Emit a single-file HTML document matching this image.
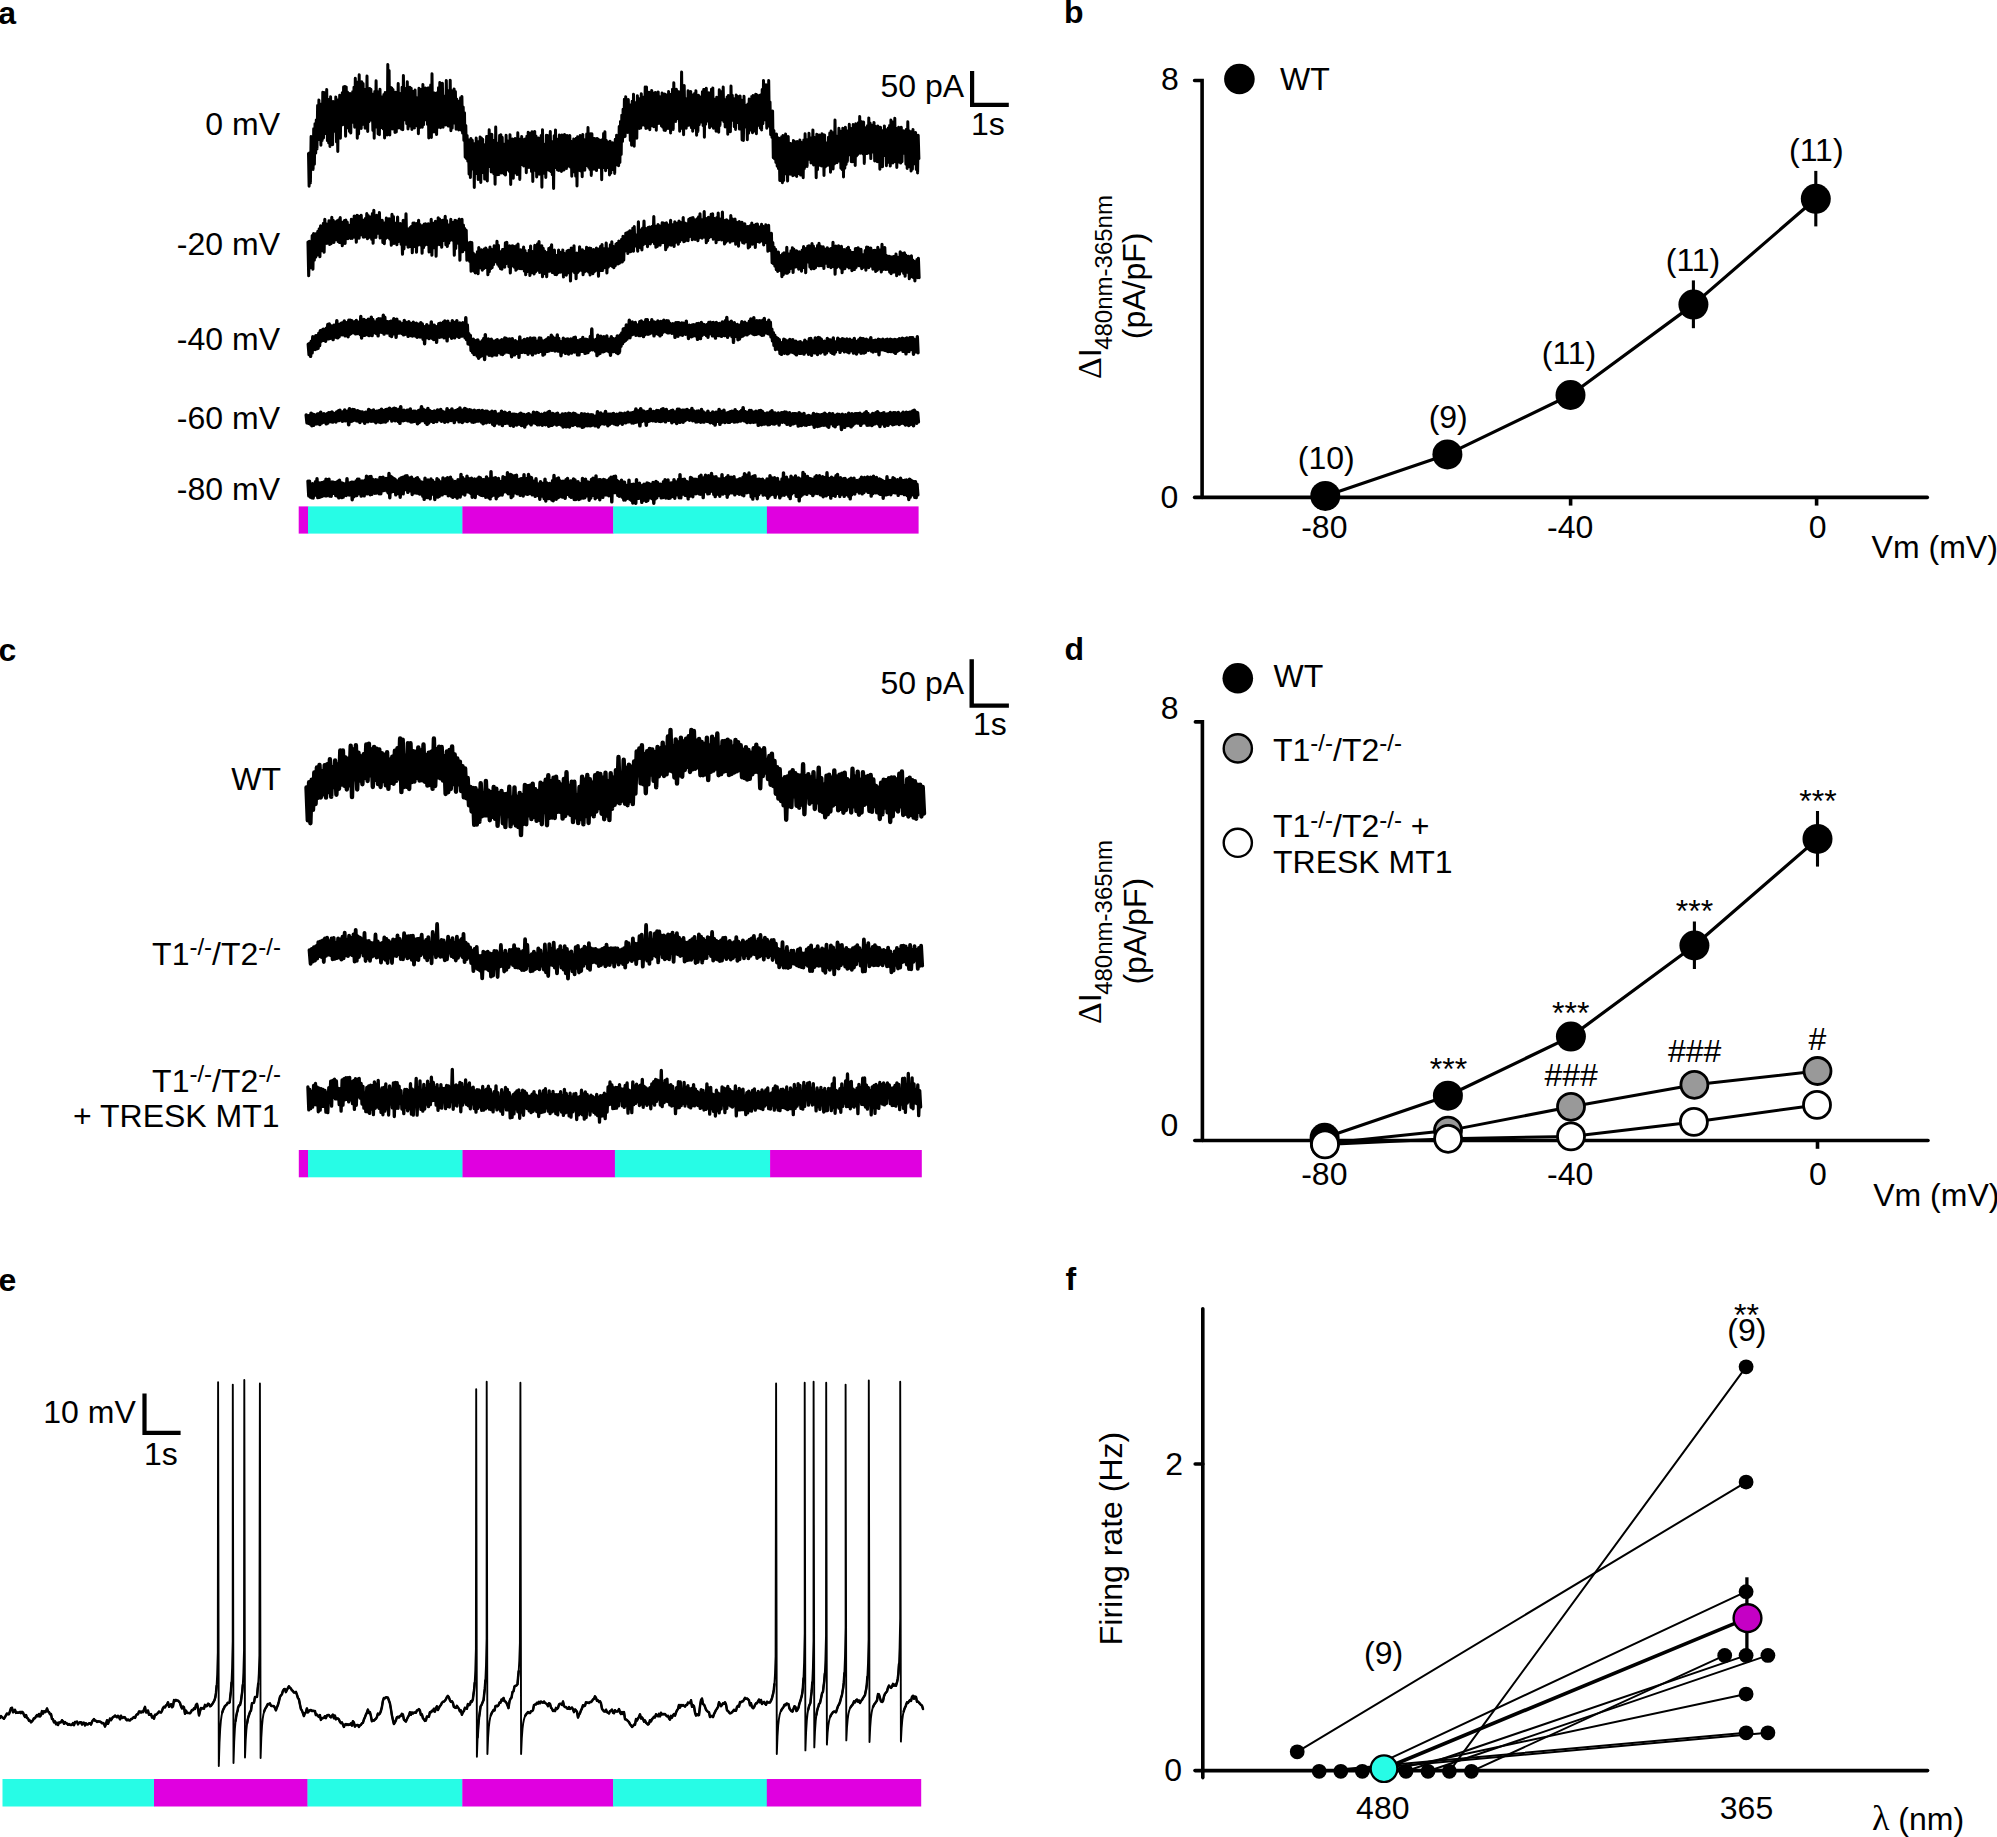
<!DOCTYPE html>
<html lang="en"><head><meta charset="utf-8"><title>Figure</title>
<style>html,body{margin:0;padding:0;background:#fff}svg{display:block}text{font-family:"Liberation Sans",sans-serif;font-size:32px;fill:#000}.tr{fill:none;stroke:#000;stroke-linejoin:round;stroke-linecap:round}.ser{font-family:"Liberation Serif",serif}</style></head><body>
<svg width="1997" height="1837" viewBox="0 0 1997 1837">
<rect width="1997" height="1837" fill="#fff"/>
<g id="panel-a">
<text x="-1.8" y="23.6" font-weight="bold">a</text>
<text x="280" y="135.3" text-anchor="end">0 mV</text>
<text x="280" y="255.4" text-anchor="end">-20 mV</text>
<text x="280" y="350.1" text-anchor="end">-40 mV</text>
<text x="280" y="429.2" text-anchor="end">-60 mV</text>
<text x="280" y="500" text-anchor="end">-80 mV</text>
<polyline class="tr" stroke-width="3.0" points="308.5,153.6 309.1,186.3 309.8,152.7 310.4,182.9 311.1,136.5 311.8,168.8 312.4,137.4 313.1,169.4 313.7,128.8 314.4,164.2 315,123.7 315.7,153.1 316.3,119.9 317,148.9 317.6,105.6 318.3,139.8 318.9,100 319.6,132.6 320.2,111.3 320.9,145.3 321.5,104 322.2,140.4 322.8,92.3 323.5,138 324.1,92.4 324.8,132.6 325.4,99 326.1,133.8 326.7,89.4 327.4,140.8 328,99.3 328.7,142.9 329.3,104.8 330,146.4 330.6,96.8 331.3,139.5 331.9,107.3 332.6,144.7 333.2,101.5 333.9,131.5 334.5,103.8 335.2,130.1 335.8,96.9 336.5,141.9 337.1,106.1 337.8,151.6 338.4,99.8 339.1,132.4 339.7,95.3 340.4,138.3 341,95.4 341.7,125.1 342.3,92.8 343,124 343.6,86.9 344.3,124.7 344.9,86.4 345.6,136.3 346.2,86.9 346.9,119.2 347.5,92.1 348.2,128 348.8,95.7 349.5,131.4 350.1,93.5 350.8,133.1 351.4,94.6 352.1,122.4 352.7,91.7 353.4,122.1 354,87.3 354.7,127.2 355.3,78.3 356,119.3 356.6,96 357.3,138.3 357.9,82.1 358.6,134.1 359.2,74.7 359.9,127.1 360.5,85.7 361.2,128.5 361.8,81.8 362.5,124.6 363.1,83.5 363.8,124.4 364.4,98.5 365.1,128.3 365.7,89.2 366.4,122.7 367,76 367.7,131.6 368.3,91.5 369,121.7 369.6,88.4 370.3,116.7 370.9,89.2 371.6,120.1 372.2,98.3 372.9,130.4 373.5,94 374.2,138.3 374.8,91.6 375.5,124.2 376.1,80.8 376.8,127.3 377.4,91.4 378.1,134 378.7,96.7 379.4,134.7 380,89.3 380.7,125.8 381.3,98.2 382,127.7 382.6,96.7 383.3,128.9 383.9,94.6 384.6,138 385.2,92.5 385.9,134.7 386.5,99.6 387.2,134.9 387.8,64.5 388.5,120.4 389.1,70.6 389.8,135.1 390.4,87.3 391.1,123.7 391.7,87.9 392.4,128.9 393,89.6 393.7,121.2 394.3,101.1 395,132.5 395.6,92.2 396.3,132 396.9,94.6 397.6,116.4 398.2,83.5 398.9,127.9 399.5,93.2 400.2,123.7 400.8,96.7 401.5,129.3 402.1,87.2 402.8,129.7 403.4,75.4 404.1,119.9 404.7,88.3 405.4,119.8 406,90.8 406.7,123.8 407.3,81.7 408,128.9 408.6,93.1 409.3,125.5 409.9,87.2 410.6,126.1 411.2,88.3 411.9,129.5 412.5,97.1 413.2,127.6 413.8,91.2 414.5,127.9 415.1,90 415.8,126 416.4,97.5 417.1,126 417.7,100.2 418.4,133.8 419,88.2 419.7,127.6 420.3,92 421,126.9 421.6,89.3 422.3,127.3 422.9,84.5 423.6,124.7 424.2,92.7 424.9,119.9 425.5,87.9 426.2,118 426.8,90.9 427.5,124.5 428.1,88.1 428.8,138.1 429.4,87.8 430.1,124.6 430.7,85.1 431.4,137.5 432,73.7 432.7,131.6 433.3,92.7 434,132 434.6,93 435.3,129.8 435.9,96.2 436.6,134.6 437.2,92.7 437.9,127.4 438.5,87.7 439.2,125.6 439.8,82.6 440.5,127.7 441.1,87.3 441.8,123.2 442.4,83.3 443.1,127.3 443.7,97 444.4,119.4 445,96.1 445.7,125 446.3,80.5 447,122.3 447.6,98 448.3,126.1 448.9,90.4 449.6,121.4 450.2,80.2 450.9,130.7 451.5,90.4 452.2,128.1 452.8,93.7 453.5,121.7 454.1,88.9 454.8,123.3 455.4,91.5 456.1,129.2 456.7,98.9 457.4,118.1 458,101.1 458.7,130 459.3,102 460,124.9 460.6,97.8 461.3,130.2 461.9,96.6 462.6,133.1 463.2,107 463.9,140.5 464.5,112.7 465.2,157.3 465.8,125.5 466.5,158.6 467.1,135.4 467.8,161.3 468.4,141 469.1,174.1 469.7,139.8 470.4,177.6 471,138.6 471.7,167.7 472.3,140.3 473,169.1 473.6,143.8 474.3,187.4 474.9,143.6 475.6,173.6 476.2,138 476.9,173.1 477.5,143.9 478.2,179.6 478.8,141.5 479.5,171.7 480.1,137 480.8,182.5 481.4,137.9 482.1,172.8 482.7,139.3 483.4,171.4 484,144.4 484.7,179.1 485.3,147.4 486,176.5 486.6,136.5 487.3,180.9 487.9,136.3 488.6,166.7 489.2,129.7 489.9,165.4 490.5,137.7 491.2,172 491.8,134.3 492.5,166.1 493.1,142.7 493.8,173.8 494.4,140.3 495.1,184.3 495.7,127 496.4,169.7 497,145.2 497.7,174.8 498.3,142.9 499,174.4 499.6,135.4 500.3,168.7 500.9,134.8 501.6,172.9 502.2,137.3 502.9,167.5 503.5,145 504.2,173.9 504.8,144.1 505.5,175.1 506.1,135.2 506.8,167.4 507.4,140.7 508.1,170 508.7,145.1 509.4,171.4 510,134.8 510.7,184.5 511.3,147.3 512,174.5 512.6,139.1 513.3,178.2 513.9,140.6 514.6,172.6 515.2,138.6 515.9,172.9 516.5,140 517.2,174.6 517.8,132.8 518.5,163.1 519.1,139 519.8,179.4 520.4,139 521.1,164.8 521.7,136.6 522.4,162.8 523,143.7 523.7,166 524.3,139.4 525,165.4 525.6,138.8 526.3,172.7 526.9,136.2 527.6,166.7 528.2,132.2 528.9,167.4 529.5,136.3 530.2,166.8 530.8,133.1 531.5,171.5 532.1,131.7 532.8,181.5 533.4,137.1 534.1,170.5 534.7,131.4 535.4,169.8 536,136.1 536.7,177 537.3,139.9 538,171.1 538.6,137.9 539.3,174.2 539.9,141.4 540.6,171.5 541.2,135.5 541.9,187.3 542.5,129.7 543.2,173.5 543.8,144 544.5,173.2 545.1,144.2 545.8,177.5 546.4,135.2 547.1,166.2 547.7,135.4 548.4,169.9 549,140.2 549.7,170.6 550.3,131.6 551,171.8 551.6,143.7 552.3,174.8 552.9,141.5 553.6,188.6 554.2,135.7 554.9,166.8 555.5,129.9 556.2,167.6 556.8,139 557.5,170 558.1,139.5 558.8,170.4 559.4,135 560.1,168.4 560.7,146.7 561.4,171.4 562,134.9 562.7,170.2 563.3,141.4 564,170 564.6,134.6 565.3,166.2 565.9,135.6 566.6,168.4 567.2,135.5 567.9,164.2 568.5,142.5 569.2,166.1 569.8,135.6 570.5,167.3 571.1,141.2 571.8,176.3 572.4,142.1 573.1,171.9 573.7,139 574.4,170.9 575,139.7 575.7,176.2 576.3,138.2 577,186 577.6,136.8 578.3,165.6 578.9,139.9 579.6,170.5 580.2,135.6 580.9,171.1 581.5,140.8 582.2,176.7 582.8,134.4 583.5,165.8 584.1,139.6 584.8,170.3 585.4,148.5 586.1,165.6 586.7,134 587.4,156.1 588,127.6 588.7,167.5 589.3,140.5 590,169.4 590.6,133.8 591.3,175.4 591.9,133.8 592.6,165 593.2,138.2 593.9,169.3 594.5,138.5 595.2,163.3 595.8,139.2 596.5,170.6 597.1,138.6 597.8,163.6 598.4,139.3 599.1,167.5 599.7,147.8 600.4,166.7 601,140.3 601.7,179.8 602.3,139.7 603,167.3 603.6,133.6 604.3,167.7 604.9,131.8 605.6,170.8 606.2,140.2 606.9,167 607.5,141.7 608.2,167.8 608.8,143.8 609.5,175 610.1,141.2 610.8,173.1 611.4,144.5 612.1,168 612.7,142.7 613.4,169.7 614,142.9 614.7,173.4 615.3,139.2 616,164.7 616.6,135.2 617.3,165 617.9,135.5 618.6,165.8 619.2,126.4 619.9,162.6 620.5,121.4 621.2,154.6 621.8,115.2 622.5,141.5 623.1,109.2 623.8,136.9 624.4,99.3 625.1,136.5 625.7,96.7 626.4,131.4 627,101 627.7,132.4 628.3,99.5 629,131.6 629.6,106.6 630.3,140.4 630.9,104.7 631.6,145.3 632.2,101.2 632.9,136.2 633.5,94.2 634.2,146.3 634.8,102.5 635.5,126.9 636.1,102.5 636.8,138.2 637.4,95.7 638.1,128.2 638.7,98.5 639.4,128.5 640,101.1 640.7,128.1 641.3,93.8 642,125.3 642.6,98.4 643.3,122.3 643.9,97 644.6,125.4 645.2,87 645.9,128.4 646.5,87 647.2,127.9 647.8,93.6 648.5,127.5 649.1,92.3 649.8,129.8 650.4,92.7 651.1,125.9 651.7,90.4 652.4,125.6 653,94.3 653.7,126.8 654.3,93.1 655,121.9 655.6,92.4 656.3,130.2 656.9,93.2 657.6,122.1 658.2,91.9 658.9,123.5 659.5,96.6 660.2,122.2 660.8,100.3 661.5,125.9 662.1,93.1 662.8,127.2 663.4,95.4 664.1,130.3 664.7,93.9 665.4,130.5 666,94.8 666.7,126.8 667.3,99.3 668,128.5 668.6,91.4 669.3,122.1 669.9,97.3 670.6,132.9 671.2,94.3 671.9,124.2 672.5,89.2 673.2,129.4 673.8,82.7 674.5,116.5 675.1,91.4 675.8,121.4 676.4,89.3 677.1,113.9 677.7,91.5 678.4,118.8 679,91.9 679.7,131.2 680.3,91.8 681,122.3 681.6,72.1 682.3,128.5 682.9,92.8 683.6,134.7 684.2,85.6 684.9,121.8 685.5,98.5 686.2,128.3 686.8,100.9 687.5,125.5 688.1,90.8 688.8,125.2 689.4,96.5 690.1,124.4 690.7,91.4 691.4,127.7 692,98.2 692.7,131.3 693.3,94.8 694,128 694.6,93.6 695.3,125.7 695.9,90.7 696.6,135.3 697.2,95.7 697.9,131.4 698.5,95.3 699.2,124.8 699.8,96.7 700.5,122.1 701.1,98.3 701.8,115.1 702.4,91.7 703.1,125.6 703.7,89.6 704.4,137.3 705,89.2 705.7,124.2 706.3,88.2 707,121.2 707.6,95.1 708.3,114.9 708.9,92.8 709.6,127.8 710.2,95.7 710.9,126.1 711.5,89.2 712.2,126.2 712.8,87.9 713.5,128.3 714.1,98.9 714.8,127.2 715.4,104.3 716.1,131.3 716.7,97.3 717.4,130 718,98.3 718.7,132.3 719.3,89.8 720,125.4 720.6,93.3 721.3,118 721.9,91.6 722.6,119.9 723.2,87.1 723.9,121.6 724.5,101.1 725.2,126.9 725.8,99.5 726.5,120.9 727.1,97.1 727.8,134.2 728.4,95.5 729.1,127.6 729.7,101.3 730.4,131.7 731,86 731.7,120.1 732.3,95.2 733,120.4 733.6,98.4 734.3,126.7 734.9,99.7 735.6,129.4 736.2,95.1 736.9,121.2 737.5,96.2 738.2,122.8 738.8,100 739.5,129.1 740.1,96.1 740.8,128.1 741.4,99.9 742.1,139.9 742.7,105.6 743.4,140.5 744,96.2 744.7,126.1 745.3,107.2 746,127.2 746.6,105.3 747.3,139.8 747.9,103.9 748.6,133.2 749.2,99.1 749.9,130.3 750.5,100.5 751.2,124.1 751.8,96.4 752.5,132.8 753.1,95.6 753.8,131.2 754.4,98 755.1,124.1 755.7,94.2 756.4,133.7 757,95.1 757.7,115.7 758.3,101.5 759,125.5 759.6,95.6 760.3,128.1 760.9,94.8 761.6,129.9 762.2,89.4 762.9,123.8 763.5,80.6 764.2,120 764.8,97.3 765.5,119.1 766.1,84.8 766.8,128.3 767.4,90.2 768.1,126.3 768.7,80.4 769.4,125.5 770,101.9 770.7,134.8 771.3,118.6 772,137.4 772.6,111 773.3,157.7 773.9,130.5 774.6,159 775.2,135.3 775.9,162.5 776.5,134.1 777.2,166.2 777.8,137.7 778.5,168.6 779.1,138.3 779.8,180.5 780.4,139.9 781.1,168.7 781.7,136.7 782.4,182.7 783,135.5 783.7,180.6 784.3,140 785,174.1 785.6,134 786.3,172.2 786.9,143.2 787.6,181.1 788.2,136.4 788.9,165.7 789.5,143.3 790.2,174.3 790.8,143.6 791.5,173.8 792.1,145.5 792.8,175.8 793.4,140.6 794.1,173.5 794.7,141.6 795.4,175.2 796,149.6 796.7,176.5 797.3,141.6 798,173.7 798.6,142.5 799.3,171.2 799.9,140 800.6,175.1 801.2,142.3 801.9,169.4 802.5,143.2 803.2,177.8 803.8,139.9 804.5,168.4 805.1,133.8 805.8,165.9 806.4,144.9 807.1,166.4 807.7,139.6 808.4,159.4 809,133.2 809.7,159.4 810.3,139.6 811,163 811.6,137.7 812.3,160.3 812.9,129.9 813.6,164.9 814.2,137.3 814.9,159.3 815.5,137.4 816.2,177.8 816.8,134.3 817.5,169.6 818.1,135.2 818.8,165.4 819.4,134.9 820.1,159.9 820.7,136.8 821.4,165.9 822,133.8 822.7,161.3 823.3,134.8 824,175.5 824.6,135 825.3,166.9 825.9,145.6 826.6,165.4 827.2,142.7 827.9,165.3 828.5,137.3 829.2,162.7 829.8,133.1 830.5,172.2 831.1,131 831.8,161.3 832.4,137.9 833.1,169 833.7,132.6 834.4,163.9 835,120 835.7,162.8 836.3,136.1 837,162.8 837.6,137.7 838.3,159.8 838.9,128.2 839.6,161.3 840.2,131.1 840.9,168.3 841.5,133.6 842.2,169.6 842.8,128.2 843.5,176.9 844.1,129.9 844.8,168.3 845.4,127.3 846.1,164.5 846.7,132.6 847.4,161.4 848,130.8 848.7,153 849.3,124.2 850,154.9 850.6,128.2 851.3,161.7 851.9,129.8 852.6,161.8 853.2,124.4 853.9,155.1 854.5,126.4 855.2,165.5 855.8,123.8 856.5,155.9 857.1,125.3 857.8,154.5 858.4,122.8 859.1,153 859.7,116.5 860.4,153.2 861,121.5 861.7,151.6 862.3,122.1 863,154 863.6,122.1 864.3,163.4 864.9,127.6 865.6,149 866.2,127.8 866.9,153.6 867.5,125.8 868.2,149.6 868.8,117.9 869.5,153.3 870.1,123 870.8,158.6 871.4,130.8 872.1,150.3 872.7,124.9 873.4,152.3 874,122.4 874.7,160.9 875.3,126.3 876,160.7 876.6,129.2 877.3,161.7 877.9,126.1 878.6,157.8 879.2,128.9 879.9,169.2 880.5,127.3 881.2,162.1 881.8,131.2 882.5,166.7 883.1,130.4 883.8,155.2 884.4,125.9 885.1,155.8 885.7,129.6 886.4,165.7 887,131.8 887.7,155.1 888.3,128.1 889,162.4 889.6,125.5 890.3,166.1 890.9,120 891.6,156 892.2,121.7 892.9,162.9 893.5,129.9 894.2,155.9 894.8,118.3 895.5,161.8 896.1,128.3 896.8,167.5 897.4,132 898.1,162.2 898.7,127.2 899.4,157.3 900,129.8 900.7,163.1 901.3,127.3 902,161.8 902.6,130.9 903.3,153.5 903.9,130.7 904.6,151.1 905.2,133.9 905.9,164.2 906.5,129.2 907.2,168.4 907.8,121.8 908.5,164.4 909.1,130.7 909.8,167 910.4,134.4 911.1,171.1 911.7,131.6 912.4,169.3 913,129.6 913.7,163.9 914.3,133.3 915,162.1 915.6,132.6 916.3,169.5 916.9,141.3 917.6,172.9 918.2,135.2 918.9,158.6"/>
<polyline class="tr" stroke-width="3.1" points="308,242.1 308.7,275.6 309.4,241.3 310.1,268 310.8,242.5 311.5,264.7 312.2,235.5 312.9,269.2 313.6,233.6 314.3,260.1 315,234 315.7,257.2 316.4,233.5 317.1,255.1 317.8,231.2 318.5,252.2 319.2,228.7 319.9,256.7 320.6,225.9 321.3,248.4 322,227.1 322.7,250.6 323.4,223.4 324.1,252.1 324.8,219.2 325.5,240.9 326.2,223.9 326.9,243.4 327.6,225.6 328.3,238.6 329,220.9 329.7,244.5 330.4,220.9 331.1,243.7 331.8,217.3 332.5,239.6 333.2,220.4 333.9,242.5 334.6,223 335.3,240 336,221.7 336.7,236.3 337.4,220.9 338.1,241.4 338.8,219.8 339.5,242.4 340.2,217.5 340.9,242.7 341.6,222.1 342.3,245.6 343,225.1 343.7,242.5 344.4,220.5 345.1,243.5 345.8,220.1 346.5,235.7 347.2,222.1 347.9,238.7 348.6,225 349.3,236.8 350,225.5 350.7,238.5 351.4,219.2 352.1,238.4 352.8,219.8 353.5,236.9 354.2,216 354.9,237.3 355.6,217.5 356.3,242.1 357,215.4 357.7,237.7 358.4,216.1 359.1,238.3 359.8,220.5 360.5,235 361.2,215.2 361.9,234.6 362.6,220.5 363.3,237.3 364,220 364.7,236.9 365.4,218.6 366.1,236.7 366.8,213.6 367.5,238.6 368.2,215.6 368.9,237.4 369.6,219.4 370.3,235.9 371,216.7 371.7,239.3 372.4,213.6 373.1,243.2 373.8,210.2 374.5,237.4 375.2,221.4 375.9,237.5 376.6,215.3 377.3,233.5 378,215.7 378.7,232.8 379.4,212.6 380.1,238 380.8,221.1 381.5,237.4 382.2,220.2 382.9,242.5 383.6,225.7 384.3,243.6 385,222.9 385.7,238.4 386.4,218.1 387.1,236.5 387.8,220.6 388.5,237.7 389.2,218.8 389.9,239.3 390.6,222.8 391.3,245.2 392,214.3 392.7,240.8 393.4,216.6 394.1,243.4 394.8,224.3 395.5,241.2 396.2,223 396.9,244.8 397.6,217 398.3,241.6 399,225.7 399.7,240.9 400.4,223.6 401.1,244.2 401.8,231.4 402.5,254.1 403.2,220.2 403.9,249 404.6,226.5 405.3,242 406,213.8 406.7,244.3 407.4,228.8 408.1,247.2 408.8,228.8 409.5,246.7 410.2,227.6 410.9,243.6 411.6,226.2 412.3,252.7 413,223.1 413.7,245.8 414.4,223 415.1,246.4 415.8,228.6 416.5,252.3 417.2,223.2 417.9,245.2 418.6,220.2 419.3,244.1 420,224.5 420.7,245.1 421.4,228.6 422.1,253.1 422.8,225.5 423.5,247.8 424.2,224 424.9,245.1 425.6,223.7 426.3,244.1 427,226.9 427.7,244.6 428.4,223.7 429.1,251.9 429.8,227.7 430.5,243.5 431.2,219.4 431.9,255.3 432.6,223.1 433.3,244.9 434,223.6 434.7,247.8 435.4,221.4 436.1,256.3 436.8,223.7 437.5,245 438.2,217.9 438.9,239.6 439.6,219 440.3,244.7 441,223.6 441.7,247.3 442.4,220.3 443.1,240.7 443.8,220.1 444.5,239.6 445.2,216.2 445.9,244.8 446.6,220.6 447.3,246.5 448,226.7 448.7,243.3 449.4,224.7 450.1,240.5 450.8,219.2 451.5,238.3 452.2,225 452.9,240.5 453.6,222.4 454.3,255.3 455,220.2 455.7,248.5 456.4,220.9 457.1,242.2 457.8,228.7 458.5,243.5 459.2,219.1 459.9,260.1 460.6,227.1 461.3,246.2 462,219.4 462.7,251.8 463.4,225.1 464.1,245.7 464.8,228.6 465.5,249.6 466.2,230.3 466.9,260.2 467.6,242.6 468.3,256.7 469,247.9 469.7,261.5 470.4,242.3 471.1,271.1 471.8,242.5 472.5,266.2 473.2,253.1 473.9,271.2 474.6,254.6 475.3,272.9 476,255.5 476.7,272.4 477.4,251.7 478.1,273.6 478.8,247.6 479.5,267.6 480.2,252 480.9,268 481.6,249.8 482.3,270.1 483,254.8 483.7,268.7 484.4,249.1 485.1,267.6 485.8,248 486.5,264.8 487.2,249.8 487.9,274.7 488.6,256.8 489.3,271.7 490,247 490.7,268.8 491.4,249.2 492.1,267.8 492.8,249.7 493.5,264.8 494.2,245.9 494.9,261.8 495.6,247 496.3,262 497,241.4 497.7,264.1 498.4,245.3 499.1,266.2 499.8,252.3 500.5,268.8 501.2,251.5 501.9,269.1 502.6,249.6 503.3,266.8 504,249.4 504.7,267.2 505.4,242.9 506.1,263.8 506.8,242.4 507.5,260.9 508.2,248.1 508.9,266.8 509.6,245.7 510.3,273 511,250.6 511.7,266.3 512.4,245.7 513.1,264.3 513.8,246.2 514.5,267.1 515.2,248.4 515.9,270.1 516.6,245.5 517.3,268.9 518,244.1 518.7,267 519.4,250.1 520.1,268.8 520.8,249.7 521.5,268.7 522.2,252.4 522.9,268.5 523.6,247.1 524.3,271 525,250.6 525.7,274.8 526.4,253.2 527.1,271.6 527.8,254.2 528.5,267.1 529.2,250.4 529.9,275.4 530.6,246.1 531.3,273 532,251.3 532.7,270.6 533.4,251.5 534.1,274 534.8,245.2 535.5,271.9 536.2,247 536.9,270.4 537.6,243.7 538.3,266.7 539,241.6 539.7,272.4 540.4,250.3 541.1,265.5 541.8,245.7 542.5,276.8 543.2,248.2 543.9,270.6 544.6,251 545.3,273.8 546,252.5 546.7,276.6 547.4,252.3 548.1,267.4 548.8,248.6 549.5,271.1 550.2,247.5 550.9,269.9 551.6,244.7 552.3,272.4 553,252.5 553.7,272.9 554.4,250.1 555.1,274.5 555.8,255.5 556.5,274.7 557.2,255.2 557.9,273 558.6,250.1 559.3,272.3 560,252.3 560.7,272.1 561.4,253.1 562.1,270.3 562.8,250.1 563.5,276.9 564.2,253.3 564.9,273 565.6,254.8 566.3,275.3 567,251.1 567.7,273 568.4,250.4 569.1,269.9 569.8,250.2 570.5,281 571.2,248.1 571.9,269.8 572.6,252.7 573.3,271.2 574,245.8 574.7,272.8 575.4,255.1 576.1,278.6 576.8,253.1 577.5,272.7 578.2,253.2 578.9,271.1 579.6,246.8 580.3,269.4 581,251.5 581.7,270.5 582.4,249.9 583.1,274.6 583.8,251.1 584.5,271.9 585.2,251.7 585.9,266.2 586.6,247.3 587.3,270.9 588,254.6 588.7,272.2 589.4,248 590.1,274.9 590.8,248.4 591.5,272.5 592.2,250.3 592.9,273.6 593.6,249.5 594.3,271.8 595,251.7 595.7,270.4 596.4,248 597.1,269.8 597.8,254.6 598.5,276.2 599.2,248.9 599.9,270.4 600.6,246.4 601.3,270.4 602,244.5 602.7,270.4 603.4,250.6 604.1,267.7 604.8,248.6 605.5,262.4 606.2,243.1 606.9,273 607.6,250 608.3,267.3 609,248.9 609.7,265.2 610.4,244.9 611.1,265.8 611.8,241.9 612.5,266.5 613.2,246.2 613.9,267.7 614.6,248.1 615.3,265.8 616,244 616.7,262 617.4,243.2 618.1,263.9 618.8,241 619.5,263.1 620.2,244.7 620.9,261.9 621.6,239.3 622.3,262 623,236.2 623.7,260.2 624.4,236.6 625.1,251.2 625.8,233.2 626.5,250.8 627.2,232.7 627.9,253.5 628.6,231.7 629.3,248.6 630,230.7 630.7,251.6 631.4,236.6 632.1,247.7 632.8,228.3 633.5,251.1 634.2,226.5 634.9,246.2 635.6,234.7 636.3,246.1 637,234.7 637.7,251.3 638.4,221.8 639.1,247.2 639.8,231.7 640.5,247.7 641.2,229.9 641.9,249.9 642.6,228.1 643.3,244.7 644,221 644.7,241 645.4,228.2 646.1,243.6 646.8,229.3 647.5,246.6 648.2,227.6 648.9,243.3 649.6,227 650.3,243.9 651,227.2 651.7,241.9 652.4,226.3 653.1,241.4 653.8,216.6 654.5,243.8 655.2,226.1 655.9,247.2 656.6,226.3 657.3,246.5 658,224.6 658.7,242.8 659.4,225.8 660.1,245.3 660.8,228.8 661.5,242.6 662.2,222.9 662.9,242.8 663.6,223 664.3,241.3 665,226.6 665.7,249.7 666.4,222.9 667.1,247.3 667.8,224.8 668.5,245.3 669.2,229.2 669.9,240.7 670.6,220.3 671.3,245.1 672,226.9 672.7,243.8 673.4,224.6 674.1,246.4 674.8,221.7 675.5,242.5 676.2,226.7 676.9,241.4 677.6,223.1 678.3,244.2 679,221 679.7,241.8 680.4,222.2 681.1,237.1 681.8,223.8 682.5,240 683.2,217.5 683.9,241.8 684.6,222.8 685.3,240.9 686,223.5 686.7,238 687.4,225.6 688.1,240.7 688.8,219.3 689.5,236.7 690.2,218.5 690.9,236.1 691.6,218 692.3,239.7 693,217.5 693.7,233.8 694.4,219.5 695.1,239.4 695.8,222.8 696.5,238.1 697.2,218.9 697.9,240.7 698.6,216.9 699.3,238 700,213.8 700.7,236.6 701.4,220.2 702.1,238.2 702.8,219.6 703.5,236.2 704.2,211.5 704.9,237.1 705.6,218.4 706.3,242.8 707,219.4 707.7,240.7 708.4,217.2 709.1,237.7 709.8,219.5 710.5,233 711.2,214.4 711.9,236.8 712.6,213.9 713.3,239.1 714,218.3 714.7,238.5 715.4,218.7 716.1,242.8 716.8,217.6 717.5,236.2 718.2,213.1 718.9,239.7 719.6,218.7 720.3,237.7 721,219 721.7,239.9 722.4,212 723.1,239.3 723.8,220.6 724.5,244 725.2,220.4 725.9,242.1 726.6,219.9 727.3,240.8 728,224.5 728.7,238.9 729.4,220.7 730.1,242.1 730.8,215.6 731.5,240 732.2,218.7 732.9,241 733.6,221.9 734.3,240.3 735,219.1 735.7,244.3 736.4,222 737.1,243.3 737.8,227.1 738.5,246.2 739.2,221.5 739.9,237.6 740.6,226.5 741.3,240.1 742,222.2 742.7,242.8 743.4,228.6 744.1,243.1 744.8,223.7 745.5,240.4 746.2,228.9 746.9,241.9 747.6,226.6 748.3,247.9 749,226.5 749.7,246.8 750.4,225.6 751.1,243.9 751.8,223 752.5,244.1 753.2,225.8 753.9,237.7 754.6,225.3 755.3,247.5 756,224.2 756.7,240.2 757.4,224.1 758.1,241.7 758.8,229.6 759.5,242.1 760.2,226.8 760.9,238.4 761.6,224.3 762.3,241.3 763,226.3 763.7,244.9 764.4,227.4 765.1,242.5 765.8,224.7 766.5,241.9 767.2,227.7 767.9,251.1 768.6,225.2 769.3,247.1 770,237.3 770.7,250.8 771.4,233.3 772.1,262.8 772.8,242.6 773.5,263.8 774.2,247.4 774.9,266.3 775.6,249.4 776.3,269.8 777,255 777.7,271.4 778.4,252 779.1,269.4 779.8,255.4 780.5,270.8 781.2,256.7 781.9,276.7 782.6,253.9 783.3,274.7 784,252.8 784.7,270.7 785.4,257.9 786.1,273.3 786.8,247.2 787.5,273.3 788.2,256.5 788.9,272 789.6,253.9 790.3,268.8 791,250.7 791.7,266.3 792.4,247.7 793.1,272.5 793.8,249.1 794.5,267.2 795.2,250.8 795.9,267 796.6,250.7 797.3,266.8 798,252.2 798.7,269.3 799.4,251.8 800.1,268.1 800.8,252.3 801.5,271.2 802.2,250.1 802.9,267.7 803.6,246.6 804.3,267.4 805,248.9 805.7,272.7 806.4,248.4 807.1,262.1 807.8,246.2 808.5,262.3 809.2,245.9 809.9,266.9 810.6,249.7 811.3,268.9 812,243.5 812.7,265.8 813.4,246.1 814.1,268.6 814.8,248.5 815.5,267.6 816.2,250.4 816.9,265.2 817.6,245.6 818.3,265.7 819,243.4 819.7,265.8 820.4,246 821.1,265.7 821.8,249.2 822.5,265.7 823.2,246.7 823.9,268.5 824.6,248.9 825.3,262.6 826,249.5 826.7,263.3 827.4,247.9 828.1,266.8 828.8,249.5 829.5,264.5 830.2,249 830.9,267.8 831.6,248.3 832.3,266.6 833,242.4 833.7,264.5 834.4,246.7 835.1,274.3 835.8,246.1 836.5,267.8 837.2,246.8 837.9,264.7 838.6,245.8 839.3,266.5 840,250.9 840.7,268.3 841.4,246.2 842.1,272.7 842.8,252.3 843.5,269 844.2,249.5 844.9,268.7 845.6,251.6 846.3,261.6 847,248.5 847.7,266.7 848.4,247.3 849.1,268 849.8,250.3 850.5,266.1 851.2,252.4 851.9,270.8 852.6,252.6 853.3,269.7 854,252.3 854.7,269.4 855.4,248.6 856.1,267.5 856.8,248.5 857.5,262.4 858.2,247.9 858.9,265.8 859.6,252.6 860.3,265.9 861,249.3 861.7,268.7 862.4,255.2 863.1,267.4 863.8,254.6 864.5,266.8 865.2,250.5 865.9,270.1 866.6,247.1 867.3,265.7 868,247.2 868.7,267.6 869.4,251 870.1,265.9 870.8,248 871.5,266.3 872.2,252 872.9,269.1 873.6,250.6 874.3,268.1 875,250.2 875.7,271.4 876.4,251.1 877.1,270.4 877.8,247.2 878.5,269.3 879.2,252 879.9,266.6 880.6,249.7 881.3,271.9 882,244.3 882.7,269.6 883.4,249.8 884.1,264.9 884.8,247.5 885.5,269.5 886.2,255.2 886.9,269.4 887.6,257.3 888.3,269.1 889,256.3 889.7,272.2 890.4,256.7 891.1,273.6 891.8,257.1 892.5,272.2 893.2,256.7 893.9,272.3 894.6,256.3 895.3,271.8 896,254.1 896.7,275.7 897.4,257.1 898.1,273.6 898.8,259.6 899.5,274.2 900.2,251.8 900.9,271.3 901.6,253.1 902.3,270.8 903,258 903.7,273.4 904.4,252.8 905.1,276.1 905.8,255 906.5,272.2 907.2,257.1 907.9,272.4 908.6,256.4 909.3,278.7 910,259.6 910.7,277 911.4,255.8 912.1,275.9 912.8,260 913.5,277.8 914.2,261.3 914.9,280.9 915.6,263.6 916.3,273.4 917,259.6 917.7,277.8 918.4,258.4 919.1,277.7"/>
<polyline class="tr" stroke-width="3.4" points="308.3,344.3 309.1,354.5 309.8,343.3 310.6,356.4 311.3,341.1 312.1,352.9 312.8,336.8 313.6,349.5 314.3,336.9 315.1,349.5 315.8,335.6 316.6,348.8 317.3,335.5 318.1,348.2 318.8,333.3 319.6,345.6 320.3,330.8 321.1,341.2 321.8,330.1 322.6,340.4 323.3,329.1 324.1,340.4 324.8,329.5 325.6,341.2 326.3,328.3 327.1,336.8 327.8,324.5 328.6,338.8 329.3,324 330.1,338.3 330.8,325.6 331.6,336.1 332.3,327 333.1,339.6 333.8,325.3 334.6,335.6 335.3,324.9 336.1,337.2 336.8,320.7 337.6,337.8 338.3,325.4 339.1,336.7 339.8,324.3 340.6,334.1 341.3,323.3 342.1,334.8 342.8,322.8 343.6,333.9 344.3,321 345.1,335.9 345.8,322.4 346.6,333.1 347.3,322.6 348.1,336.7 348.8,320.3 349.6,334.3 350.3,320.1 351.1,333.5 351.8,320.6 352.6,332.1 353.3,322.2 354.1,332.9 354.8,321.6 355.6,333.9 356.3,320.5 357.1,333.6 357.8,321.9 358.6,332.7 359.3,322.8 360.1,334.5 360.8,316.5 361.6,338 362.3,322.6 363.1,333.3 363.8,319.5 364.6,335.4 365.3,320.5 366.1,333.3 366.8,320.4 367.6,334.8 368.3,319.1 369.1,335.6 369.8,320.1 370.6,331.4 371.3,317.2 372.1,335.6 372.8,319.4 373.6,332.7 374.3,321.7 375.1,332.7 375.8,322.8 376.6,333.5 377.3,319.4 378.1,335.9 378.8,318.6 379.6,329.8 380.3,319 381.1,332.1 381.8,319 382.6,332.6 383.3,315.2 384.1,334.1 384.8,317.3 385.6,332.3 386.3,321.5 387.1,333 387.8,321.6 388.6,331.3 389.3,321.9 390.1,335.6 390.8,321.1 391.6,336.5 392.3,320.9 393.1,331.7 393.8,318.7 394.6,333.8 395.3,322.6 396.1,337.3 396.8,319.1 397.6,332.9 398.3,321.8 399.1,333.1 399.8,321.9 400.6,332.8 401.3,324.4 402.1,333.6 402.8,323.5 403.6,334.8 404.3,320.5 405.1,334.2 405.8,322.1 406.6,333.9 407.3,323.4 408.1,336.4 408.8,321.6 409.6,334.1 410.3,323.1 411.1,335.6 411.8,325.2 412.6,336 413.3,322.3 414.1,335 414.8,324.2 415.6,336.1 416.3,323.3 417.1,337.2 417.8,324.2 418.6,336.6 419.3,324.1 420.1,337 420.8,322.7 421.6,336.5 422.3,324 423.1,339.2 423.8,326.8 424.6,343.7 425.3,326.4 426.1,337.8 426.8,324.7 427.6,336.7 428.3,327.8 429.1,338.5 429.8,325.9 430.6,336.1 431.3,321.9 432.1,338.2 432.8,325.2 433.6,339.5 434.3,325.3 435.1,337.3 435.8,327.4 436.6,342.3 437.3,326.4 438.1,335.4 438.8,323.7 439.6,337.2 440.3,323.2 441.1,336.9 441.8,323.6 442.6,333.8 443.3,322.3 444.1,337.8 444.8,321 445.6,337 446.3,325.5 447.1,340.9 447.8,321.2 448.6,335 449.3,323.4 450.1,336.1 450.8,323.7 451.6,338.2 452.3,320.7 453.1,334.4 453.8,322.2 454.6,337.9 455.3,322.7 456.1,336.1 456.8,320.7 457.6,336.2 458.3,323.2 459.1,337.3 459.8,322.9 460.6,336.1 461.3,324.5 462.1,336.1 462.8,322.7 463.6,334.4 464.3,323.6 465.1,337.9 465.8,317.8 466.6,339.6 467.3,324.9 468.1,343.9 468.8,333.6 469.6,344.3 470.3,335.4 471.1,350.5 471.8,340.6 472.6,352.5 473.3,339.2 474.1,354.5 474.8,342.3 475.6,354.1 476.3,340.5 477.1,356 477.8,339.9 478.6,358.3 479.3,341.9 480.1,356.7 480.8,342.5 481.6,355.7 482.3,340.6 483.1,355.6 483.8,338.4 484.6,359.5 485.3,334.6 486.1,353.8 486.8,341.2 487.6,353.8 488.3,338.9 489.1,355.2 489.8,339.9 490.6,355 491.3,339.1 492.1,355.8 492.8,340.9 493.6,353.3 494.3,342.2 495.1,354.9 495.8,340.5 496.6,355.1 497.3,339.8 498.1,351.6 498.8,341.5 499.6,352.6 500.3,340.7 501.1,354.1 501.8,339.8 502.6,354.5 503.3,340.3 504.1,353.1 504.8,337.9 505.6,351.4 506.3,338.5 507.1,352.1 507.8,339.9 508.6,352.2 509.3,339 510.1,352.8 510.8,339.3 511.6,356.7 512.3,338.6 513,350.7 513.8,341.1 514.5,354.9 515.3,340.7 516,353.5 516.8,341.9 517.5,352.3 518.3,341.8 519,357.3 519.8,336.9 520.5,352.3 521.3,341.2 522,352.3 522.8,340.8 523.5,351.9 524.3,339.4 525,352.5 525.8,341 526.5,352.4 527.3,338.7 528,354.2 528.8,340.3 529.5,352.3 530.3,337.9 531,353 531.8,342.1 532.5,354.8 533.3,338.2 534,352.2 534.8,338.1 535.5,353.1 536.3,341.4 537,350.9 537.8,341 538.5,352.4 539.3,338 540,351.2 540.8,338.3 541.5,351.3 542.3,340.7 543,355.1 543.8,341.4 544.5,354.1 545.3,340.2 546,349.5 546.8,339.1 547.5,351.3 548.3,337.8 549,350.8 549.8,338.8 550.5,349.4 551.3,335.1 552,350.4 552.8,336.9 553.5,350 554.3,339.3 555,351 555.8,338.2 556.5,349.3 557.3,335 558,351.1 558.8,338.5 559.5,348.3 560.3,341.4 561,355.7 561.8,341.9 562.5,352.2 563.3,338.3 564,351.1 564.8,341.1 565.5,353.3 566.3,339.3 567,352.4 567.8,338.9 568.5,354 569.3,343.2 570,351.5 570.8,339 571.5,353.1 572.3,339.5 573,351.8 573.8,337.7 574.5,352 575.3,337.3 576,348.4 576.8,340.5 577.5,354.9 578.3,342 579,354.8 579.8,339.9 580.5,350.3 581.3,339.4 582,351.3 582.8,337.5 583.5,351.3 584.3,339.6 585,353.4 585.8,339.1 586.5,352.9 587.3,339.8 588,352.5 588.8,340.4 589.5,350.5 590.3,336.5 591,348.5 591.8,329 592.5,349.9 593.3,339.7 594,348.7 594.8,340.9 595.5,351.1 596.3,339.1 597,355.6 597.8,335.2 598.5,354.1 599.3,340.3 600,353.3 600.8,336.3 601.5,350.1 602.3,339.1 603,351.9 603.8,336.6 604.5,351.2 605.3,337.3 606,350.6 606.8,336 607.5,350.7 608.3,340.7 609,351.7 609.8,339 610.5,355.3 611.3,336.8 612,351.5 612.8,338.5 613.5,351.6 614.3,340 615,350.8 615.8,338.5 616.5,352.6 617.3,335.9 618,353.6 618.8,341 619.5,352.2 620.3,334.9 621,346.2 621.8,332.9 622.5,343.6 623.3,328.9 624,341.6 624.8,328.4 625.5,340.5 626.3,325 627,339.1 627.8,326.8 628.5,335.7 629.3,320.3 630,337.7 630.8,324.9 631.5,334.9 632.3,321.9 633,334.2 633.8,323.6 634.5,333.9 635.3,322.5 636,335.4 636.8,326.7 637.5,334.5 638.3,324.6 639,335.6 639.8,321.6 640.5,335.5 641.3,320.9 642,333.3 642.8,322.3 643.5,336.6 644.3,322.5 645,334.6 645.8,319.8 646.5,332.9 647.3,319.7 648,334.2 648.8,323.7 649.5,333.7 650.3,322.4 651,332.9 651.8,319.8 652.5,332.5 653.3,321.7 654,335.8 654.8,322.1 655.5,333.8 656.3,323.1 657,333.1 657.8,321 658.5,334.3 659.3,322.1 660,335.9 660.8,321.4 661.5,334.6 662.3,321.6 663,332.2 663.8,320.2 664.5,330.6 665.3,324.1 666,331.9 666.8,320.7 667.5,332.7 668.3,321 669,332.9 669.8,323.2 670.5,330.9 671.3,325.1 672,333.3 672.8,323.7 673.5,333.1 674.3,324.4 675,337.4 675.8,322.6 676.5,333.6 677.3,322.7 678,336.2 678.8,322.6 679.5,334.3 680.3,323.7 681,334.7 681.8,322.9 682.5,335.2 683.3,323.1 684,333.8 684.8,324.2 685.5,334.2 686.3,321.1 687,334.2 687.8,326.6 688.5,338.5 689.3,325.3 690,334.9 690.8,325.8 691.5,336.7 692.3,325 693,336 693.8,324.8 694.5,335.5 695.3,325.6 696,336 696.8,323.6 697.5,339.4 698.3,323.5 699,336.3 699.8,324.7 700.5,338.6 701.3,322.4 702,335.3 702.8,324.2 703.5,332.9 704.3,324.8 705,334.4 705.8,325.9 706.5,335.6 707.3,324.4 708,337.2 708.8,322.4 709.5,333.9 710.3,322.3 711,332.8 711.8,323.1 712.5,335.9 713.3,322.5 714,332.5 714.8,323.4 715.5,338.1 716.3,322.4 717,333.7 717.8,324.7 718.5,335.5 719.3,323.5 720,335.6 720.8,325.7 721.5,336.3 722.3,321.9 723,333.5 723.8,322.6 724.5,335.6 725.3,320.8 726,334.2 726.8,317.5 727.5,337.3 728.3,321.9 729,335.2 729.8,325.4 730.5,334.8 731.3,321.3 732,336.6 732.8,323.2 733.5,342.4 734.3,322.7 735,335.4 735.8,325.7 736.5,336.3 737.3,324.4 738,339.7 738.8,326.4 739.5,339 740.3,324.9 741,336.6 741.8,321.8 742.5,336.1 743.3,323.1 744,335.1 744.8,322.3 745.5,332.8 746.3,323.6 747,334.8 747.8,323.7 748.5,333.7 749.3,321.3 750,332.5 750.8,318.9 751.5,333.1 752.3,321.4 753,334 753.8,317.7 754.5,334.6 755.3,322 756,334.3 756.8,320.8 757.5,333.9 758.3,320.9 759,333.1 759.8,320.6 760.5,334.2 761.3,321.8 762,335.4 762.8,320.2 763.5,335.1 764.3,318.5 765,332.9 765.8,322.9 766.5,332.8 767.3,322.1 768,333.6 768.8,320.3 769.5,334.1 770.3,322.1 771,336.9 771.8,329.2 772.5,340.9 773.3,332.7 774,345.4 774.8,335.3 775.5,349.5 776.3,337.5 777,345.7 777.8,338.4 778.5,349.4 779.3,339.7 780,353.5 780.8,343.3 781.5,354.3 782.3,342.4 783,352.5 783.8,339.2 784.5,353.2 785.3,339.9 786,352.9 786.8,342.3 787.5,353.9 788.3,340.6 789,353 789.8,339.4 790.5,351.6 791.3,340.4 792,352.1 792.8,339.6 793.5,352.6 794.3,343.3 795,353.7 795.8,341.3 796.5,354.9 797.3,342.5 798,350.9 798.8,342.3 799.5,353.4 800.3,341.7 801,353.3 801.8,343.1 802.5,353 803.3,342.6 804,354.1 804.8,340.3 805.5,352.2 806.3,341.6 807,350.8 807.8,342.6 808.5,354.2 809.3,338.8 810,353.8 810.8,338.5 811.5,355.3 812.3,340.8 813,352.7 813.8,341.6 814.5,352.7 815.3,337.9 816,352.8 816.8,339 817.5,354.5 818.3,337.4 819,350.2 819.8,337.9 820.5,353 821.3,339.3 822,351.8 822.8,342.5 823.5,351.5 824.3,341.2 825,354.1 825.8,341.4 826.5,352.8 827.3,338.5 828,350.5 828.8,339.7 829.5,350.6 830.3,340 831,352.3 831.8,341.9 832.5,353.4 833.3,338 834,354 834.8,343.3 835.5,352 836.3,341.6 837,348.8 837.8,338.2 838.5,349.3 839.3,339.5 840,352.4 840.8,340.2 841.5,350.5 842.3,338.7 843,348.9 843.8,339.2 844.5,351.9 845.3,343.3 846,350.4 846.8,339 847.5,352 848.3,340.5 849,352.7 849.8,339.3 850.5,349.8 851.3,342.2 852,350.8 852.8,340.3 853.5,353.1 854.3,338.5 855,349.1 855.8,341.7 856.5,354 857.3,341.1 858,351.9 858.8,339.6 859.5,350.5 860.3,338.3 861,353.2 861.8,338.7 862.5,352.7 863.3,338.7 864,353 864.8,340.9 865.5,352.2 866.3,339.2 867,350 867.8,340.3 868.5,350.3 869.3,340 870,349.5 870.8,337.7 871.5,351.1 872.3,340.6 873,352 873.8,340.8 874.5,350.2 875.3,340.3 876,351.4 876.8,342.1 877.5,349.9 878.3,339.1 879,354.7 879.8,339.8 880.5,348.9 881.3,340.3 882,349.7 882.8,339.1 883.5,349.7 884.3,340.7 885,350.3 885.8,339.7 886.5,350.7 887.3,339.3 888,351.5 888.8,340.7 889.5,351.4 890.3,339.2 891,351.6 891.8,339.8 892.5,351.1 893.3,339.9 894,352.2 894.8,339.4 895.5,353.3 896.3,340 897,351.4 897.8,339.8 898.5,350.5 899.3,338.7 900,349.7 900.8,339.2 901.5,349.1 902.3,338.3 903,351.3 903.8,338.9 904.5,350.7 905.3,338.7 906,353.8 906.8,338 907.5,350.8 908.3,339.8 909,351.5 909.8,337.8 910.5,347.8 911.3,337.6 912,349.6 912.8,337.7 913.5,354.2 914.3,339.5 915,349.4 915.8,339.9 916.5,351.8 917.3,336.8 918,352.7"/>
<polyline class="tr" stroke-width="3.6" points="306.3,415.1 307.1,422.7 307.9,416.1 308.7,423.3 309.5,415.5 310.3,424 311.1,413.2 311.9,425.6 312.7,414.4 313.5,425.3 314.3,414.7 315.1,423.9 315.9,415.9 316.7,423.8 317.5,414.1 318.3,423.5 319.1,413.8 319.9,424.5 320.7,412.4 321.5,423 322.3,414.3 323.1,422.2 323.9,413.9 324.7,422 325.5,414.8 326.3,423.8 327.1,413.8 327.9,422.9 328.7,412.8 329.5,421.2 330.3,412.7 331.1,421.6 331.9,412 332.7,422 333.5,413.3 334.3,420.2 335.1,413.6 335.9,421.9 336.7,412 337.5,420.5 338.3,411.1 339.1,420.4 339.9,410.4 340.7,419.7 341.5,412.5 342.3,421.1 343.1,411.8 343.9,420.7 344.7,410.1 345.5,420.7 346.3,411.7 347.1,419 347.9,411.1 348.7,424.6 349.5,408.7 350.3,421.5 351.1,411.3 351.9,421 352.7,409.6 353.5,420.3 354.3,409.9 355.1,419.4 355.9,411.2 356.7,420.8 357.5,410.7 358.3,421 359.1,411.6 359.9,422.4 360.7,412 361.5,419.6 362.3,412.1 363.1,421 363.9,413.5 364.7,423.2 365.5,412.4 366.3,421.3 367.1,412.3 367.9,421.7 368.7,409.5 369.5,420.1 370.3,410.5 371.1,421.1 371.9,411.3 372.7,420.9 373.5,410.1 374.3,421.1 375.1,412 375.9,422.6 376.7,411.3 377.5,419.4 378.3,411 379.1,421.9 379.9,410.6 380.7,422.4 381.5,409.4 382.3,422 383.1,411.4 383.9,421.7 384.7,410.4 385.5,421.9 386.3,409.6 387.1,420.8 387.9,409.2 388.7,418.5 389.5,408.3 390.3,418.2 391.1,409.8 391.9,421 392.7,409.1 393.5,419.1 394.3,408.3 395.1,420.7 395.9,408.8 396.7,419.8 397.5,411 398.3,421.4 399.1,409.4 399.9,423.3 400.7,406.9 401.5,420.5 402.3,411.9 403.1,420.6 403.9,410.3 404.7,420.1 405.5,412.2 406.3,419.9 407.1,410.4 407.9,420.8 408.7,410.3 409.5,420.9 410.3,409.1 411.1,421.9 411.9,412 412.7,421.7 413.5,411.3 414.3,421.3 415.1,411.2 415.9,419.3 416.7,412.7 417.5,423.6 418.3,410.9 419.1,422.4 419.9,410 420.7,420.9 421.5,406.9 422.3,420.4 423.1,409.4 423.9,420.5 424.7,410.2 425.5,422.7 426.3,413.1 427.1,424.3 427.9,408.6 428.7,423 429.5,410.5 430.3,420.8 431.1,411.6 431.9,421.3 432.7,411.9 433.5,422.3 434.3,411.1 435.1,420.2 435.9,411.8 436.7,421.5 437.5,410.1 438.3,419 439.1,410.6 439.9,419.9 440.7,409.6 441.5,421.1 442.3,411.3 443.1,420 443.9,412.4 444.7,422.1 445.5,412.4 446.3,419.6 447.1,408.8 447.9,421.6 448.7,410.6 449.5,419.6 450.3,411.3 451.1,420.4 451.9,409 452.7,419.1 453.5,411.3 454.3,422.5 455.1,410.9 455.9,419.6 456.7,410.4 457.5,419.4 458.3,409.6 459.1,421.8 459.9,408.1 460.7,421.4 461.5,410.7 462.3,422.5 463.1,410.1 463.9,420.9 464.7,408.5 465.5,420.8 466.3,409.2 467.1,421.5 467.9,410.3 468.7,420.7 469.5,409.8 470.3,419.9 471.1,410.3 471.9,421.9 472.7,411.4 473.5,422.1 474.3,410.2 475.1,421.7 475.9,411.7 476.7,420.9 477.5,410.9 478.3,421 479.1,410.6 479.9,420.3 480.7,411.7 481.5,422 482.3,410.5 483.1,423.7 483.9,414.4 484.7,422.7 485.5,411.2 486.3,422.6 487.1,411.4 487.9,421.6 488.7,412.2 489.5,422.1 490.3,412.9 491.1,421.7 491.9,411.2 492.7,424.1 493.5,414 494.3,425.5 495.1,411.6 495.9,423 496.7,414.4 497.5,422.1 498.3,414.1 499.1,423.9 499.9,413.8 500.7,423.5 501.5,411.3 502.3,425.5 503.1,414.3 503.9,423.4 504.7,412.4 505.5,423.2 506.3,413.4 507.1,423 507.9,414 508.7,423.1 509.5,412.5 510.3,425.4 511.1,414.5 511.9,423.7 512.7,414.4 513.5,426.1 514.3,414.3 515.1,422.2 515.9,414.5 516.7,424.9 517.5,415.4 518.3,424 519.1,414.4 519.9,424.2 520.7,413.2 521.5,425.5 522.3,414.3 523.1,424.5 523.9,414.6 524.7,426.9 525.5,415.9 526.3,424.1 527.1,414.5 527.9,422.8 528.7,413.7 529.5,423.2 530.3,415.1 531.1,424.8 531.9,416.1 532.7,422.8 533.5,412.3 534.3,422.6 535.1,414.6 535.9,423.4 536.7,412.5 537.5,424.7 538.3,413.4 539.1,424.6 539.9,414.8 540.7,422.8 541.5,414.3 542.3,425.2 543.1,414.7 543.9,423.8 544.7,413.2 545.5,424.7 546.3,414.8 547.1,422.6 547.9,412.3 548.7,426.1 549.5,411.5 550.3,425.4 551.1,415.1 551.9,425.3 552.7,413.6 553.5,424.1 554.3,414.6 555.1,423.8 555.9,414.1 556.7,424.9 557.5,413.3 558.3,424.1 559.1,415.4 559.9,424.1 560.7,415.8 561.5,425 562.3,414 563.1,426.9 563.9,414.4 564.7,425.7 565.5,413.7 566.3,426.8 567.1,415.4 567.9,425 568.7,413.2 569.5,427 570.3,413.9 571.1,425 571.9,415 572.7,425.3 573.5,413.4 574.3,424.5 575.1,413.9 575.9,424.1 576.7,415 577.5,425.7 578.3,415.6 579.1,425.7 579.9,416.8 580.7,425.8 581.5,413.8 582.3,427.3 583.1,414.4 583.9,426.7 584.7,414.1 585.5,424.6 586.3,415 587.1,425.7 587.9,414.2 588.7,425.4 589.5,415.3 590.3,425.8 591.1,414.8 591.9,425.1 592.7,415.1 593.5,424.8 594.3,417.3 595.1,425.8 595.9,416.1 596.7,424.3 597.5,411.9 598.3,427 599.1,415.4 599.9,424.7 600.7,413 601.5,423 602.3,414.5 603.1,423.7 603.9,414 604.7,424 605.5,411.5 606.3,423.5 607.1,414.3 607.9,425.6 608.7,414.3 609.5,424.3 610.3,414.3 611.1,423.1 611.9,414.3 612.7,423 613.5,413.6 614.3,423.8 615.1,415.6 615.9,424.4 616.7,414.3 617.5,424.8 618.3,415 619.1,423.2 619.9,413.3 620.7,421.7 621.5,413.5 622.3,424.2 623.1,414.8 623.9,422.4 624.7,413.3 625.5,422.8 626.3,413.7 627.1,421.9 627.9,412.2 628.7,421.7 629.5,414 630.3,421.3 631.1,413.1 631.9,422.9 632.7,412.8 633.5,422.9 634.3,412 635.1,422.3 635.9,409.1 636.7,421.9 637.5,410.7 638.3,419.7 639.1,410.9 639.9,425.8 640.7,408.7 641.5,421.5 642.3,410.8 643.1,420.5 643.9,411.2 644.7,420.9 645.5,413 646.3,425.1 647.1,411.9 647.9,421.4 648.7,411.3 649.5,421 650.3,409.2 651.1,420.1 651.9,412.2 652.7,420.6 653.5,411.5 654.3,420.6 655.1,412.1 655.9,421.1 656.7,410.6 657.5,420.5 658.3,410.9 659.1,421.1 659.9,411 660.7,421.4 661.5,409.6 662.3,420.9 663.1,408.7 663.9,420.4 664.7,411.4 665.5,421.8 666.3,409.6 667.1,418.9 667.9,411.9 668.7,420.3 669.5,411.8 670.3,420 671.1,410.7 671.9,422.6 672.7,410.4 673.5,419.3 674.3,412.1 675.1,421.5 675.9,411.8 676.7,423.5 677.5,409.4 678.3,418.7 679.1,409.2 679.9,422.3 680.7,411.4 681.5,419.3 682.3,410.2 683.1,422.1 683.9,410.4 684.7,420.7 685.5,410.2 686.3,419.7 687.1,409.6 687.9,419 688.7,410.8 689.5,420.2 690.3,410.8 691.1,418.3 691.9,408.6 692.7,420.7 693.5,410.9 694.3,420 695.1,412.2 695.9,421.9 696.7,411.4 697.5,421.7 698.3,411 699.1,421.1 699.9,412.3 700.7,422.1 701.5,409.5 702.3,421.7 703.1,411.8 703.9,422 704.7,413 705.5,420.2 706.3,413.2 707.1,421.3 707.9,411.3 708.7,421.5 709.5,413.4 710.3,422.7 711.1,414.5 711.9,422.1 712.7,412.1 713.5,423.3 714.3,414.2 715.1,425 715.9,412.4 716.7,420.8 717.5,412.4 718.3,421.3 719.1,409.5 719.9,424.3 720.7,411.2 721.5,422.2 722.3,414.3 723.1,421.2 723.9,410.3 724.7,422.5 725.5,413.8 726.3,420.4 727.1,413.1 727.9,422.1 728.7,412.6 729.5,422.3 730.3,411.8 731.1,421.3 731.9,411.2 732.7,420.9 733.5,411.9 734.3,422 735.1,409.9 735.9,421.6 736.7,411.5 737.5,421.6 738.3,412.9 739.1,420.9 739.9,411.7 740.7,420.9 741.5,410.6 742.3,418.5 743.1,407.9 743.9,420.7 744.7,411.6 745.5,421.1 746.3,412.4 747.1,422.5 747.9,412.5 748.7,421.3 749.5,410.5 750.3,422.5 751.1,410.6 751.9,421.9 752.7,412.1 753.5,422.1 754.3,412.4 755.1,421.9 755.9,411.4 756.7,421 757.5,412.9 758.3,425.3 759.1,410.9 759.9,424.2 760.7,410.6 761.5,424.6 762.3,411.6 763.1,424 763.9,413.2 764.7,423.9 765.5,414.3 766.3,422.9 767.1,413 767.9,424.6 768.7,413.2 769.5,424.4 770.3,412 771.1,423.2 771.9,410.9 772.7,423.6 773.5,412.7 774.3,424 775.1,413.1 775.9,423.2 776.7,414.6 777.5,422.7 778.3,413.1 779.1,424.9 779.9,414.7 780.7,422 781.5,412.9 782.3,422.2 783.1,412.8 783.9,421.7 784.7,412.1 785.5,422.6 786.3,412.3 787.1,424.3 787.9,414.2 788.7,423.3 789.5,412.9 790.3,425.2 791.1,415.4 791.9,423.9 792.7,413.9 793.5,423.6 794.3,413.9 795.1,423 795.9,413.8 796.7,422.8 797.5,414.8 798.3,426 799.1,412.7 799.9,425.5 800.7,414 801.5,425.4 802.3,416.6 803.1,423.6 803.9,413.5 804.7,424.9 805.5,416.5 806.3,425.1 807.1,416.1 807.9,424.1 808.7,415.6 809.5,424.3 810.3,416.2 811.1,423.8 811.9,416 812.7,424.2 813.5,413.5 814.3,427.2 815.1,416.3 815.9,425.8 816.7,414.2 817.5,426.5 818.3,414.8 819.1,426 819.9,415 820.7,425.4 821.5,414.7 822.3,424.9 823.1,414.4 823.9,425.1 824.7,413.4 825.5,424.8 826.3,414.6 827.1,425.9 827.9,415 828.7,427.2 829.5,413.6 830.3,423.8 831.1,414.5 831.9,423.5 832.7,413.9 833.5,425.7 834.3,415.7 835.1,426.6 835.9,415.4 836.7,424.4 837.5,414.4 838.3,423.8 839.1,414.5 839.9,422.5 840.7,416.3 841.5,429.4 842.3,414.2 843.1,423.7 843.9,415.5 844.7,427.3 845.5,414.7 846.3,424.5 847.1,415.5 847.9,425.5 848.7,413.3 849.5,425.5 850.3,415.3 851.1,426.8 851.9,413.7 852.7,425.1 853.5,415.9 854.3,423.6 855.1,413.9 855.9,422.3 856.7,413.8 857.5,423 858.3,413.9 859.1,423.2 859.9,413.4 860.7,425.3 861.5,415.8 862.3,423.1 863.1,414.2 863.9,422.8 864.7,413.1 865.5,422.9 866.3,411.8 867.1,425.2 867.9,413.6 868.7,425 869.5,415.6 870.3,422.7 871.1,415.1 871.9,425.5 872.7,413.5 873.5,424.1 874.3,415.7 875.1,423.6 875.9,412.7 876.7,422 877.5,411.9 878.3,423.9 879.1,413.2 879.9,426.4 880.7,414.2 881.5,423.7 882.3,413.5 883.1,423.8 883.9,412.8 884.7,426.1 885.5,415.8 886.3,424.7 887.1,414.1 887.9,425.3 888.7,413.9 889.5,423.6 890.3,412.6 891.1,423.3 891.9,414.8 892.7,424.7 893.5,412.8 894.3,424.1 895.1,412.9 895.9,423.8 896.7,413.5 897.5,421.8 898.3,412.5 899.1,424.5 899.9,415.7 900.7,423.4 901.5,413.8 902.3,422.6 903.1,412.4 903.9,423.5 904.7,415.1 905.5,424.9 906.3,412.4 907.1,422.5 907.9,413 908.7,425.4 909.5,412.2 910.3,424.4 911.1,412.1 911.9,423 912.7,411.1 913.5,425.6 914.3,410.3 915.1,422.1 915.9,412.1 916.7,423.2 917.5,412.7 918.3,421.8"/>
<polyline class="tr" stroke-width="3.4" points="308,481.1 308.8,495.9 309.5,481.2 310.2,497 311,484.7 311.8,497.7 312.5,483.6 313.2,498 314,484.9 314.8,495.1 315.5,481.6 316.2,494.5 317,478.8 317.8,497.6 318.5,482.6 319.2,497.4 320,483.3 320.8,496.7 321.5,482.8 322.2,496.2 323,482.4 323.8,495.5 324.5,481.6 325.2,495.7 326,479.1 326.8,495.8 327.5,479.6 328.2,492.5 329,479.3 329.8,496.1 330.5,482.3 331.2,496.2 332,482 332.8,493.4 333.5,482.2 334.2,492.6 335,482.7 335.8,495.6 336.5,482.1 337.2,496 338,481.3 338.8,497.9 339.5,480.2 340.2,495.2 341,482.6 341.8,497.6 342.5,483.2 343.2,497.1 344,483.9 344.8,493.1 345.5,483.7 346.2,495.5 347,478.6 347.8,494.1 348.5,482.9 349.2,495 350,482.9 350.8,493.8 351.5,482.2 352.2,499.7 353,482.2 353.8,496.7 354.5,483.5 355.2,495.6 356,481 356.8,495.5 357.5,479.2 358.2,493.1 359,479.3 359.8,493.8 360.5,481.6 361.2,496.1 362,481 362.8,493.8 363.5,483.2 364.2,495.9 365,480.1 365.8,493.6 366.5,476.1 367.2,493.9 368,479.9 368.8,491 369.5,476.6 370.2,494.7 371,476.4 371.8,494.3 372.5,479.1 373.2,491.7 374,480.8 374.8,493.2 375.5,479.7 376.2,493.1 377,479.9 377.8,492.5 378.5,480.6 379.2,493.7 380,477.4 380.8,493.7 381.5,477.8 382.2,490.8 383,477.2 383.8,490.5 384.5,480.3 385.2,489.8 386,478.4 386.8,491 387.5,479.4 388.2,492.8 389,473.5 389.8,497.7 390.5,476.3 391.2,492.1 392,477.1 392.8,491.2 393.5,478.5 394.2,491.3 395,479.1 395.8,494.8 396.5,480.7 397.2,492.5 398,483.6 398.8,493.7 399.5,479 400.2,497.2 401,478 401.8,492.9 402.5,477.5 403.2,493.8 404,476.9 404.8,489.7 405.5,475.9 406.2,487.8 407,475.7 407.8,492.4 408.5,477.8 409.2,490.7 410,478.5 410.8,490.9 411.5,477.3 412.2,494.5 413,479.1 413.8,492.7 414.5,481 415.2,492.8 416,478.5 416.8,493.1 417.5,477.8 418.2,493.2 419,479.8 419.8,494.1 420.5,481.7 421.2,492.7 422,482.3 422.8,496.2 423.5,483 424.2,499.4 425,478.2 425.8,495.5 426.5,481.3 427.2,497.6 428,480 428.8,495.7 429.5,483.3 430.2,498.8 431,479 431.8,494.2 432.5,480.4 433.2,494 434,482.3 434.8,499.5 435.5,483 436.2,495.8 437,478.8 437.8,497.1 438.5,480 439.2,496.3 440,481.8 440.8,494.7 441.5,484.3 442.2,494.9 443,477.9 443.8,493.3 444.5,480.3 445.2,493.6 446,478.8 446.8,493.1 447.5,477.6 448.2,495.7 449,481.4 449.8,491.8 450.5,477.2 451.2,496.1 452,479.7 452.8,497.4 453.5,483.2 454.2,494 455,481.5 455.8,496.6 456.5,483.4 457.2,498.1 458,479.6 458.8,494.2 459.5,481 460.2,497 461,474.4 461.8,493.7 462.5,477.4 463.2,493.9 464,479.1 464.8,495 465.5,479.1 466.2,492 467,476.1 467.8,491.8 468.5,478.4 469.2,492.2 470,480.6 470.8,493.5 471.5,478.2 472.2,497.2 473,483.3 473.8,496.4 474.5,478.9 475.2,497.5 476,481.8 476.8,493.5 477.5,478.7 478.2,490.9 479,477.1 479.8,494.6 480.5,478 481.2,495.3 482,479.6 482.8,495.6 483.5,479.8 484.2,494.4 485,479.8 485.8,497.3 486.5,476.9 487.2,494.2 488,478.6 488.8,497.7 489.5,480.5 490.2,498.9 491,471.6 491.8,496 492.5,479 493.2,495.1 494,478.1 494.8,495.1 495.5,477.8 496.2,498.7 497,480.2 497.8,496.3 498.5,478.5 499.2,495.2 500,481.4 500.8,494.9 501.5,482.4 502.2,495 503,476.7 503.8,492 504.5,477.8 505.2,491 506,477.7 506.8,492.2 507.5,472.6 508.2,493.7 509,478.8 509.8,493.4 510.5,474.4 511.2,497.6 512,475.1 512.8,496.1 513.5,478.2 514.2,492.6 515,475.6 515.8,492.9 516.5,475.2 517.2,493.8 518,479.8 518.8,493 519.5,479.5 520.2,495.4 521,478.7 521.8,493.2 522.5,478.5 523.2,496 524,474.7 524.8,492.5 525.5,481.3 526.2,494 527,478.4 527.8,494.3 528.5,474.5 529.2,493.6 530,477 530.8,491.6 531.5,477.8 532.2,494.9 533,480.9 533.8,491.3 534.5,482.6 535.2,496.4 536,478.8 536.8,493.8 537.5,483.6 538.2,495.6 539,485.7 539.8,499.2 540.5,481.7 541.2,495.8 542,483.2 542.8,496.2 543.5,483.6 544.2,498.6 545,479.1 545.8,501 546.5,482.8 547.2,495.2 548,484 548.8,498.6 549.5,483.4 550.2,497.4 551,485.9 551.8,500 552.5,480.7 553.2,500.7 554,475.5 554.8,496 555.5,481.6 556.2,499.2 557,478.6 557.8,497.7 558.5,478 559.2,497 560,480.6 560.8,494.1 561.5,482.1 562.2,497 563,481.1 563.8,497.1 564.5,482.9 565.2,498.3 566,479.6 566.8,493.9 567.5,478.5 568.2,494.5 569,482 569.8,496.3 570.5,481 571.2,497.4 572,481 572.8,497.1 573.5,479 574.2,499.5 575,480 575.8,499.5 576.5,482.3 577.2,496.4 578,481.6 578.8,499.5 579.5,483.4 580.2,498.9 581,484.4 581.8,494.8 582.5,478.4 583.2,498.1 584,480.2 584.8,497.8 585.5,479.1 586.2,495.8 587,481.7 587.8,495.9 588.5,482.1 589.2,500.2 590,483.7 590.8,498 591.5,479.4 592.2,495.5 593,478.3 593.8,495.3 594.5,478.9 595.2,498.8 596,475.9 596.8,497.4 597.5,480.5 598.2,495.5 599,479.8 599.8,499.7 600.5,479.8 601.2,495.7 602,481.7 602.8,497.4 603.5,479.5 604.2,493.7 605,479.9 605.8,494.8 606.5,482.7 607.2,494.9 608,480.3 608.8,495.7 609.5,478.7 610.2,495.2 611,477.2 611.8,501.9 612.5,477.5 613.2,491.2 614,476.5 614.8,492.6 615.5,476.3 616.2,492.6 617,480.5 617.8,495.4 618.5,481.8 619.2,496.2 620,484.3 620.8,494.7 621.5,480.3 622.2,497.1 623,481.9 623.8,500 624.5,482.2 625.2,500 626,485.3 626.8,498.5 627.5,485.5 628.2,498.1 629,480.1 629.8,499.2 630.5,485.1 631.2,500.2 632,484.5 632.8,503 633.5,484.3 634.2,499.3 635,486.8 635.8,503.3 636.5,479.6 637.2,498.4 638,483.7 638.8,498.2 639.5,483.3 640.2,498.2 641,485.9 641.8,502.4 642.5,485.5 643.2,500.4 644,484.3 644.8,499 645.5,485.4 646.2,501.4 647,482.9 647.8,500.5 648.5,483.5 649.2,495.6 650,484.3 650.8,497.9 651.5,484.5 652.2,498.7 653,482.5 653.8,503.3 654.5,486 655.2,498.9 656,481.4 656.8,497.7 657.5,482.4 658.2,495.4 659,484.1 659.8,495.5 660.5,484.3 661.2,497.9 662,485 662.8,497.6 663.5,481.6 664.2,495.9 665,479.8 665.8,498 666.5,481.3 667.2,497.7 668,479.9 668.8,498.4 669.5,483.2 670.2,498 671,482.9 671.8,495.9 672.5,482.8 673.2,496.6 674,479.6 674.8,498.2 675.5,481.8 676.2,492.4 677,482.9 677.8,494.9 678.5,479.5 679.2,497.8 680,474.6 680.8,497.8 681.5,482.5 682.2,491.8 683,479.5 683.8,494.1 684.5,479.2 685.2,495.4 686,481.3 686.8,495.7 687.5,481.9 688.2,498.9 689,482.2 689.8,496.1 690.5,477.5 691.2,493.1 692,478.2 692.8,496.7 693.5,480.3 694.2,492.6 695,479.1 695.8,493.7 696.5,479.5 697.2,491.2 698,480.9 698.8,493.7 699.5,476.5 700.2,494.3 701,475.2 701.8,491.4 702.5,480.7 703.2,497.6 704,477.7 704.8,491.6 705.5,475.3 706.2,491.1 707,476.4 707.8,493.9 708.5,475.8 709.2,493.6 710,477.5 710.8,490.4 711.5,473.4 712.2,491.3 713,476.7 713.8,494.3 714.5,477.5 715.2,496.6 716,476.7 716.8,493 717.5,478.8 718.2,494.2 719,479 719.8,496.2 720.5,479.8 721.2,492.2 722,474.6 722.8,494.1 723.5,478.5 724.2,493 725,481.1 725.8,493.5 726.5,477.4 727.2,497.2 728,475.8 728.8,494 729.5,478.5 730.2,491.3 731,477.3 731.8,492.9 732.5,477.7 733.2,492.7 734,476.7 734.8,494.9 735.5,479.6 736.2,492.9 737,480.5 737.8,493.4 738.5,479.4 739.2,494.2 740,478.8 740.8,492 741.5,482.4 742.2,494.9 743,477.1 743.8,495.8 744.5,473.6 745.2,492.1 746,475 746.8,492.7 747.5,475.1 748.2,491.2 749,473 749.8,492.7 750.5,478.3 751.2,496.9 752,477 752.8,499.1 753.5,476.1 754.2,495.7 755,475.7 755.8,494.3 756.5,480.5 757.2,498.7 758,479.1 758.8,494.5 759.5,479.1 760.2,492.7 761,479.6 761.8,492.4 762.5,479.3 763.2,495.1 764,480.7 764.8,491.4 765.5,481.5 766.2,495.2 767,479 767.8,498.2 768.5,479.4 769.2,496.2 770,475.6 770.8,494.7 771.5,477.6 772.2,493.6 773,480.9 773.8,494.7 774.5,477.6 775.2,497.4 776,481.3 776.8,493.8 777.5,478.5 778.2,493.7 779,482 779.8,497.8 780.5,483 781.2,495.9 782,478.9 782.8,492.7 783.5,472.9 784.2,495.2 785,479.9 785.8,494.1 786.5,477.2 787.2,493.3 788,479.7 788.8,496.3 789.5,481.5 790.2,498.6 791,476.2 791.8,493.9 792.5,477.8 793.2,492.3 794,480.3 794.8,492.5 795.5,476 796.2,496.3 797,478.5 797.8,495.1 798.5,478 799.2,500.9 800,479 800.8,496.2 801.5,479.6 802.2,495 803,472.4 803.8,493.9 804.5,474.2 805.2,491.3 806,477.5 806.8,494.4 807.5,476.4 808.2,491.1 809,478.4 809.8,492.9 810.5,478.8 811.2,493.5 812,479.3 812.8,495.6 813.5,480.2 814.2,493.9 815,477 815.8,490.3 816.5,475.7 817.2,493.5 818,477.5 818.8,493 819.5,475.8 820.2,494.7 821,478.5 821.8,495.1 822.5,476.8 823.2,496.7 824,477.4 824.8,495.2 825.5,480.7 826.2,495.8 827,472.8 827.8,494.5 828.5,478.3 829.2,494.2 830,480.2 830.8,498.1 831.5,477.2 832.2,493.8 833,480.1 833.8,495.3 834.5,478 835.2,496.2 836,475.8 836.8,493.4 837.5,474.5 838.2,491.8 839,477.9 839.8,496.5 840.5,477.7 841.2,494.4 842,481.2 842.8,493.9 843.5,478.8 844.2,496.4 845,478.4 845.8,494.7 846.5,479.9 847.2,494.5 848,481.5 848.8,496.4 849.5,479.1 850.2,498.9 851,478.3 851.8,494.7 852.5,481.5 853.2,492.1 854,478.1 854.8,494 855.5,480.7 856.2,491.5 857,480.5 857.8,490.7 858.5,480.6 859.2,493 860,479.3 860.8,491.5 861.5,477.1 862.2,493.9 863,480.5 863.8,492.6 864.5,477.4 865.2,488.7 866,479 866.8,491.1 867.5,476.9 868.2,492.3 869,479.7 869.8,490.7 870.5,477.1 871.2,496.1 872,478.6 872.8,493.6 873.5,476.1 874.2,490.9 875,478.9 875.8,492.8 876.5,477.5 877.2,492.3 878,479.4 878.8,493.5 879.5,479 880.2,494.4 881,479.7 881.8,493.8 882.5,480.8 883.2,498.2 884,481.5 884.8,493.8 885.5,483.1 886.2,494.8 887,476.8 887.8,494.3 888.5,480.2 889.2,492.8 890,481 890.8,494.7 891.5,480.2 892.2,492.9 893,477.8 893.8,492.4 894.5,478.8 895.2,492.8 896,480.8 896.8,492.9 897.5,479.7 898.2,495.4 899,481.1 899.8,491.3 900.5,478.2 901.2,493.6 902,480.2 902.8,492.8 903.5,480.6 904.2,494.6 905,480.2 905.8,492.7 906.5,480 907.2,495.6 908,481 908.8,499.5 909.5,479.2 910.2,497.2 911,480.1 911.8,494.8 912.5,481.1 913.2,493.9 914,481.8 914.8,497.4 915.5,481.8 916.2,497.6 917,484.1 917.8,494.9"/>
<rect x="298.7" y="506.4" width="9.6" height="27.2" fill="#e000e0"/>
<rect x="308" y="506.4" width="154.7" height="27.2" fill="#27fce6"/>
<rect x="462.4" y="506.4" width="151.1" height="27.2" fill="#e000e0"/>
<rect x="613.2" y="506.4" width="154" height="27.2" fill="#27fce6"/>
<rect x="766.9" y="506.4" width="151.7" height="27.2" fill="#e000e0"/>
<text x="880.5" y="97.3">50 pA</text>
<path d="M972.1 71 V104.9 H1008.8" fill="none" stroke="#000" stroke-width="4.2" stroke-linejoin="miter"/>
<text x="971" y="134.6">1s</text>
</g>
<g id="panel-c">
<text x="-1.5" y="660.8" font-weight="bold">c</text>
<text x="281" y="790.3" text-anchor="end">WT</text>
<text x="281" y="964.6" text-anchor="end">T1<tspan font-size="24" dy="-9.6">-/-</tspan><tspan dy="9.6">/T2</tspan><tspan font-size="24" dy="-9.6">-/-</tspan></text>
<text x="281" y="1091.6" text-anchor="end">T1<tspan font-size="24" dy="-9.6">-/-</tspan><tspan dy="9.6">/T2</tspan><tspan font-size="24" dy="-9.6">-/-</tspan></text>
<text x="279.6" y="1126.6" text-anchor="end">+ TRESK MT1</text>
<polyline class="tr" stroke-width="4.4" points="306.5,787.5 307.8,820.3 309.1,782.2 310.4,823.2 311.7,779.6 313,809.8 314.3,772.5 315.6,804 316.9,767.5 318.2,797.7 319.5,764.9 320.8,797.5 322.1,771.4 323.4,794.4 324.7,765.2 326,797.6 327.3,764.1 328.6,792 329.9,759.2 331.2,796.9 332.5,767.2 333.8,787.1 335.1,760.5 336.4,794.7 337.7,764.5 339,788.8 340.3,750.4 341.6,784.5 342.9,750.4 344.2,785.7 345.5,757.5 346.8,789.5 348.1,758.6 349.4,785.2 350.7,745.7 352,797.1 353.3,749.5 354.6,779.3 355.9,745.2 357.2,789.5 358.5,752.7 359.8,780.6 361.1,756.5 362.4,784.2 363.7,754.3 365,777.7 366.3,744.4 367.6,781 368.9,743.6 370.2,775.3 371.5,749.4 372.8,787 374.1,746.9 375.4,779.7 376.7,748.6 378,784.1 379.3,749.4 380.6,787 381.9,753.1 383.2,781.1 384.5,754.7 385.8,785.4 387.1,752.3 388.4,788.8 389.7,759.7 391,782.9 392.3,756.7 393.6,783.7 394.9,750.8 396.2,780.9 397.5,748.1 398.8,778.6 400.1,738.5 401.4,792.1 402.7,739.6 404,787 405.3,755.7 406.6,786.8 407.9,743.1 409.2,789 410.5,743.3 411.8,782.1 413.1,751.3 414.4,781.6 415.7,751.8 417,777.7 418.3,747.4 419.6,780.6 420.9,750.4 422.2,780.4 423.5,744.5 424.8,781.7 426.1,755.1 427.4,785.6 428.7,752.8 430,785.1 431.3,751.7 432.6,788.9 433.9,738.5 435.2,786 436.5,749.1 437.8,777.4 439.1,746.7 440.4,778.4 441.7,747 443,780.6 444.3,756.1 445.6,794 446.9,751.4 448.2,792.2 449.5,750 450.8,789 452.1,746.4 453.4,784 454.7,754.5 456,791.7 457.3,758.5 458.6,784.2 459.9,761.7 461.2,791.1 462.5,766.2 463.8,797.3 465.1,768.4 466.4,798.2 467.7,777.9 469,805.3 470.3,787 471.6,811.5 472.9,788 474.2,824.9 475.5,788.2 476.8,824.6 478.1,790.9 479.4,821.9 480.7,783.1 482,816.2 483.3,793.4 484.6,815.3 485.9,780.9 487.2,815.3 488.5,790.6 489.8,820.2 491.1,792.2 492.4,816.8 493.7,787 495,818.9 496.3,788.6 497.6,825.8 498.9,793.2 500.2,813.2 501.5,790.9 502.8,823.2 504.1,794.2 505.4,827.1 506.7,793.9 508,816 509.3,786.8 510.6,826.4 511.9,798 513.2,822.6 514.5,787.4 515.8,825.5 517.1,796.9 518.4,827.1 519.7,793 521,835.1 522.3,795.3 523.6,823.9 524.9,784.9 526.2,824.3 527.5,786.2 528.8,815.3 530.1,785.7 531.4,819.1 532.7,783.6 534,816.9 535.3,789.3 536.6,820.9 537.9,791.1 539.2,819.7 540.5,782.8 541.8,824.3 543.1,784 544.4,812 545.7,779.8 547,825.3 548.3,775.3 549.6,817.8 550.9,781.3 552.2,817.6 553.5,777.7 554.8,818 556.1,776.8 557.4,811.8 558.7,782 560,811.9 561.3,784.6 562.6,818.6 563.9,778.9 565.2,816 566.5,772.2 567.8,813 569.1,785.9 570.4,814.8 571.7,781.8 573,822.1 574.3,781.8 575.6,817.2 576.9,795.3 578.2,823.1 579.5,787 580.8,819.1 582.1,776.6 583.4,824.4 584.7,779.7 586,816 587.3,775 588.6,823 589.9,779.3 591.2,814 592.5,782.6 593.8,816.4 595.1,775.2 596.4,811.5 597.7,773.2 599,808 600.3,773.9 601.6,813.7 602.9,777.6 604.2,819.3 605.5,772.8 606.8,815.6 608.1,781.2 609.4,820.1 610.7,773.2 612,808.9 613.3,777.8 614.6,804.8 615.9,770.1 617.2,802.2 618.5,757 619.8,803.4 621.1,773 622.4,800.6 623.7,759.8 625,803.7 626.3,767.9 627.6,805.2 628.9,764.7 630.2,801 631.5,766.7 632.8,804.1 634.1,761.5 635.4,793.6 636.7,751.4 638,775.1 639.3,748.5 640.6,783.4 641.9,745.1 643.2,784.2 644.5,754.2 645.8,793.3 647.1,751.2 648.4,784.3 649.7,749 651,774.6 652.3,749.4 653.6,780.8 654.9,752.1 656.2,787.4 657.5,747 658.8,776.4 660.1,748.4 661.4,773.5 662.7,742.7 664,776 665.3,747.4 666.6,774.4 667.9,736.5 669.2,770.5 670.5,729.9 671.8,771.2 673.1,746.1 674.4,777.5 675.7,739.4 677,783.6 678.3,742.4 679.6,775.3 680.9,737.7 682.2,776.7 683.5,741.4 684.8,770 686.1,738.7 687.4,766.7 688.7,736.3 690,772 691.3,730 692.6,769.4 693.9,731 695.2,768.7 696.5,740.7 697.8,767.4 699.1,739 700.4,775.2 701.7,742 703,775.2 704.3,743.9 705.6,774.3 706.9,737.7 708.2,780.1 709.5,745.6 710.8,771.8 712.1,736.8 713.4,770.6 714.7,739.5 716,768.6 717.3,733.5 718.6,775.2 719.9,747.6 721.2,774.1 722.5,741.3 723.8,771.6 725.1,740.9 726.4,770.8 727.7,739.8 729,775.1 730.3,741.4 731.6,774 732.9,746.6 734.2,772.5 735.5,739.9 736.8,771.3 738.1,742.1 739.4,770.1 740.7,745.1 742,777.2 743.3,749.9 744.6,778.1 745.9,747.1 747.2,779.6 748.5,750 749.8,778.9 751.1,753 752.4,774.2 753.7,748.1 755,771.9 756.3,744.8 757.6,772 758.9,748.5 760.2,788.3 761.5,750.5 762.8,776.1 764.1,748.3 765.4,772.6 766.7,760 768,779.1 769.3,756 770.6,784.7 771.9,753.7 773.2,786 774.5,760.9 775.8,793.7 777.1,767.1 778.4,798.6 779.7,769.2 781,801 782.3,779.4 783.6,805.3 784.9,777.2 786.2,819.8 787.5,776.5 788.8,806.2 790.1,772.4 791.4,807.1 792.7,770.1 794,796.3 795.3,773.1 796.6,805.7 797.9,775.2 799.2,807.7 800.5,775.8 801.8,804.6 803.1,764.3 804.4,814.2 805.7,776.3 807,797 808.3,774.1 809.6,803.7 810.9,777.4 812.2,801.8 813.5,772.1 814.8,809 816.1,781.2 817.4,802.4 818.7,767.6 820,810.7 821.3,778.2 822.6,812 823.9,784.6 825.2,817.3 826.5,775.6 827.8,814.2 829.1,774.6 830.4,811.5 831.7,777.8 833,805.5 834.3,770.4 835.6,803.7 836.9,776.7 838.2,810.3 839.5,774.7 840.8,808.7 842.1,773.6 843.4,812.8 844.7,772.6 846,810 847.3,779.1 848.6,806 849.9,780.6 851.2,812.5 852.5,768.8 853.8,806.2 855.1,776.7 856.4,811.1 857.7,771.7 859,814.7 860.3,780 861.6,812.5 862.9,772.3 864.2,804.8 865.5,777 866.8,803.5 868.1,776 869.4,811 870.7,775 872,811.8 873.3,779.4 874.6,806.1 875.9,785.9 877.2,812.4 878.5,787.7 879.8,819 881.1,782.7 882.4,814.4 883.7,779.6 885,807.6 886.3,780.1 887.6,812.3 888.9,778.3 890.2,822 891.5,777.4 892.8,816.2 894.1,777.4 895.4,809.3 896.7,779.4 898,811.5 899.3,773.8 900.6,806.4 901.9,771.5 903.2,815 904.5,786.3 905.8,813.7 907.1,779.3 908.4,816.5 909.7,777.8 911,814.7 912.3,780.1 913.6,817.6 914.9,781.3 916.2,818.7 917.5,784.8 918.8,811.9 920.1,784.7 921.4,816.5 922.7,786.9 924,813.5"/>
<polyline class="tr" stroke-width="3.8" points="309.5,950.2 310.6,963.9 311.7,948.9 312.8,961.6 313.9,947.2 315,960.7 316.1,946.1 317.2,958.6 318.3,942.1 319.4,956 320.5,941.5 321.6,957 322.7,940.5 323.8,962 324.9,938.4 326,955.9 327.1,937.6 328.2,954.5 329.3,941.3 330.4,955.2 331.5,938.5 332.6,959.3 333.7,937.9 334.8,958.8 335.9,942.8 337,958.1 338.1,938.4 339.2,957.5 340.3,939.5 341.4,959.7 342.5,936.7 343.6,958.4 344.7,932.6 345.8,955.3 346.9,939.8 348,956.1 349.1,935.7 350.2,954.4 351.3,937.8 352.4,955.3 353.5,934.4 354.6,961.7 355.7,929.8 356.8,960.8 357.9,936.5 359,957 360.1,937.7 361.2,952.4 362.3,939.2 363.4,955.5 364.5,932.8 365.6,961 366.7,941.2 367.8,958.1 368.9,941 370,960.8 371.1,942.9 372.2,956.5 373.3,943.1 374.4,955.3 375.5,934.5 376.6,957.7 377.7,941.5 378.8,956.8 379.9,943.7 381,962.7 382.1,942.9 383.2,958.3 384.3,937.5 385.4,959.9 386.5,938.8 387.6,963 388.7,940.8 389.8,957.6 390.9,942.6 392,963 393.1,939.3 394.2,955.7 395.3,939.9 396.4,956.1 397.5,935.3 398.6,954.2 399.7,938.8 400.8,959.2 401.9,941.7 403,959.4 404.1,933.1 405.2,955.8 406.3,936.5 407.4,958.3 408.5,936.1 409.6,957.3 410.7,935.8 411.8,959.9 412.9,935.6 414,964.7 415.1,939.4 416.2,959.4 417.3,938.8 418.4,960.1 419.5,938.7 420.6,955.4 421.7,934.7 422.8,953.7 423.9,941.8 425,957.6 426.1,939.9 427.2,960.4 428.3,937.1 429.4,957.2 430.5,943.5 431.6,963.3 432.7,932 433.8,953.7 434.9,935.6 436,957.3 437.1,924 438.2,955.4 439.3,943.8 440.4,956.8 441.5,940 442.6,956.5 443.7,940.5 444.8,960.3 445.9,943.3 447,959.3 448.1,936.7 449.2,952.6 450.3,941 451.4,956.1 452.5,938.2 453.6,957.4 454.7,943 455.8,960.5 456.9,936.7 458,957.9 459.1,941.2 460.2,954.9 461.3,939.2 462.4,957 463.5,933.8 464.6,962.2 465.7,942.7 466.8,959.2 467.9,944.5 469,957 470.1,947.4 471.2,963.2 472.3,951.2 473.4,971.2 474.5,948.9 475.6,967.9 476.7,946.9 477.8,969.2 478.9,955.9 480,970.5 481.1,955.9 482.2,978.3 483.3,951.7 484.4,968.6 485.5,952.6 486.6,968.9 487.7,951.6 488.8,970.3 489.9,953.4 491,976.6 492.1,953.8 493.2,975.5 494.3,951 495.4,968 496.5,951.1 497.6,977 498.7,953.7 499.8,966.5 500.9,945 502,966 503.1,953.8 504.2,971.5 505.3,950.7 506.4,969.8 507.5,954.7 508.6,967.1 509.7,950 510.8,963.5 511.9,949.8 513,965 514.1,945.1 515.2,967.4 516.3,949.1 517.4,967.5 518.5,949.3 519.6,968 520.7,952.2 521.8,970 522.9,951 524,970.2 525.1,939.2 526.2,969 527.3,944.8 528.4,965.1 529.5,956 530.6,971.4 531.7,954.2 532.8,970.9 533.9,951.7 535,969 536.1,954.1 537.2,968 538.3,948.3 539.4,969.4 540.5,950.3 541.6,965.6 542.7,955.8 543.8,969.7 544.9,944.5 546,972.4 547.1,955.5 548.2,976 549.3,944.1 550.4,964.7 551.5,949.4 552.6,965.1 553.7,942.6 554.8,967.6 555.9,951.6 557,973.3 558.1,950 559.2,962.8 560.3,946.1 561.4,967.7 562.5,951 563.6,969.7 564.7,946.2 565.8,973.4 566.9,948.9 568,978.7 569.1,952.7 570.2,967.9 571.3,951.3 572.4,971.4 573.5,955.4 574.6,974.4 575.7,947.2 576.8,967.8 577.9,945.9 579,972.5 580.1,950.3 581.2,971 582.3,949.4 583.4,965.8 584.5,946.7 585.6,963.2 586.7,948.1 587.8,968.1 588.9,943.2 590,969.9 591.1,948.5 592.2,962.4 593.3,949.1 594.4,961.9 595.5,948.9 596.6,962.8 597.7,950.2 598.8,966.1 599.9,950.2 601,965 602.1,948.8 603.2,963.7 604.3,948 605.4,966.3 606.5,944.7 607.6,964.9 608.7,948.7 609.8,965 610.9,948.2 612,961.9 613.1,948.5 614.2,966.7 615.3,948.2 616.4,961.6 617.5,948.3 618.6,964.5 619.7,950.5 620.8,962.3 621.9,949.4 623,964.1 624.1,948.2 625.2,967.6 626.3,942 627.4,962 628.5,943.2 629.6,959.6 630.7,947.9 631.8,961.2 632.9,938.3 634,959.3 635.1,943.6 636.2,964.1 637.3,944 638.4,958.4 639.5,936.1 640.6,958.1 641.7,934.7 642.8,966.7 643.9,940.9 645,958.7 646.1,925 647.2,960.7 648.3,939.8 649.4,963.9 650.5,932.8 651.6,958.8 652.7,940.2 653.8,955 654.9,933.4 656,956.5 657.1,931.2 658.2,962.4 659.3,931.5 660.4,953.7 661.5,935.6 662.6,957.3 663.7,935.4 664.8,959.4 665.9,936.5 667,958.1 668.1,934.3 669.2,959.4 670.3,934.9 671.4,953 672.5,932.6 673.6,961.9 674.7,936.2 675.8,953.7 676.9,933.1 678,954.4 679.1,937.7 680.2,956 681.3,940.1 682.4,955.1 683.5,937.8 684.6,961.6 685.7,942.7 686.8,960.4 687.9,942.5 689,959.9 690.1,940.6 691.2,959.8 692.3,939.2 693.4,957.5 694.5,936.9 695.6,963 696.7,941.8 697.8,962 698.9,934.4 700,958.6 701.1,936.7 702.2,962.7 703.3,938.9 704.4,958.3 705.5,940.8 706.6,958.2 707.7,937.1 708.8,953.2 709.9,937.9 711,956.2 712.1,932 713.2,960.7 714.3,938.8 715.4,958.9 716.5,940.9 717.6,959.7 718.7,941.8 719.8,961.1 720.9,940.5 722,960.7 723.1,937.8 724.2,956.8 725.3,937.7 726.4,959.2 727.5,942.4 728.6,957.4 729.7,940.9 730.8,959.7 731.9,943.1 733,958.1 734.1,942.2 735.2,956.2 736.3,937.2 737.4,960.9 738.5,941.6 739.6,959.3 740.7,943.5 741.8,954.7 742.9,940.4 744,958.3 745.1,942.6 746.2,955 747.3,941.4 748.4,958.4 749.5,939.6 750.6,955.8 751.7,938.4 752.8,953.9 753.9,935.9 755,954.3 756.1,942.1 757.2,958 758.3,939.1 759.4,956.7 760.5,935 761.6,955.3 762.7,940.6 763.8,959.7 764.9,937.7 766,955.1 767.1,939.6 768.2,957.3 769.3,942.5 770.4,955.2 771.5,940.1 772.6,960 773.7,939.8 774.8,956.9 775.9,943.6 777,962.7 778.1,948.9 779.2,967.4 780.3,949.9 781.4,964.6 782.5,942.2 783.6,967.7 784.7,952.1 785.8,967.5 786.9,947 788,968 789.1,954 790.2,967 791.3,950.6 792.4,963.4 793.5,950.7 794.6,963.9 795.7,954.3 796.8,965.3 797.9,949.7 799,966.3 800.1,948.5 801.2,967 802.3,953.5 803.4,967.7 804.5,953.4 805.6,964.4 806.7,949.5 807.8,965.8 808.9,947.6 810,971.1 811.1,945.3 812.2,971.1 813.3,950.4 814.4,967.1 815.5,949.4 816.6,965.4 817.7,946.1 818.8,965.8 819.9,950.7 821,965.6 822.1,948.5 823.2,970.7 824.3,949.7 825.4,972.8 826.5,944.7 827.6,967 828.7,951.3 829.8,969.8 830.9,945.4 832,967.5 833.1,947.4 834.2,974.3 835.3,950.6 836.4,967.3 837.5,942.3 838.6,968.7 839.7,945.4 840.8,965.3 841.9,944.8 843,963.6 844.1,950.2 845.2,966.6 846.3,947.9 847.4,968.9 848.5,950 849.6,967.8 850.7,950.1 851.8,969.9 852.9,948.1 854,967.5 855.1,947.1 856.2,964.4 857.3,945.2 858.4,960.4 859.5,948.1 860.6,965.6 861.7,950.8 862.8,971.6 863.9,939.5 865,971.3 866.1,946.2 867.2,961.5 868.3,943.1 869.4,966.4 870.5,949.7 871.6,964.6 872.7,946.9 873.8,965.4 874.9,945.2 876,965 877.1,947.3 878.2,965.4 879.3,947.9 880.4,963.9 881.5,950.5 882.6,965.4 883.7,949.9 884.8,962.6 885.9,950.8 887,966.4 888.1,947.6 889.2,966.2 890.3,951.4 891.4,972.3 892.5,955.2 893.6,970.6 894.7,951.3 895.8,964.9 896.9,948 898,968.5 899.1,950.2 900.2,967.7 901.3,945.9 902.4,962.1 903.5,945.7 904.6,961.3 905.7,946.3 906.8,964.6 907.9,949 909,969.2 910.1,944.8 911.2,969.3 912.3,950 913.4,961.8 914.5,946.1 915.6,959.8 916.7,949.8 917.8,968.9 918.9,948 920,965.9 921.1,945.7 922.2,965.6"/>
<polyline class="tr" stroke-width="3.3" points="307.9,1087 308.8,1109.9 309.8,1089.5 310.7,1108.7 311.7,1091.6 312.6,1107.1 313.6,1085.4 314.5,1104.6 315.5,1083.5 316.4,1104.9 317.4,1087.2 318.3,1111.8 319.3,1088.1 320.2,1110.2 321.2,1088.6 322.1,1106.3 323.1,1089.5 324,1106.4 325,1090.4 325.9,1112.1 326.9,1092.9 327.8,1112.6 328.8,1087.6 329.7,1102 330.7,1081.2 331.6,1106.2 332.6,1080.4 333.5,1097.4 334.5,1079.2 335.4,1098.8 336.4,1081 337.3,1098.8 338.3,1088.4 339.2,1104.7 340.2,1088.7 341.1,1111.1 342.1,1080 343,1105.1 344,1078.6 344.9,1099.8 345.9,1077.7 346.8,1099.3 347.8,1077.6 348.7,1101.9 349.7,1077.4 350.6,1099.8 351.6,1082 352.5,1103.6 353.5,1080.6 354.4,1109.4 355.4,1078.7 356.3,1105.3 357.3,1079.2 358.2,1096.5 359.2,1078.4 360.1,1098.2 361.1,1083.4 362,1104 363,1086.4 363.9,1108.2 364.9,1093 365.8,1111.7 366.8,1087.4 367.7,1111.9 368.7,1085.9 369.6,1113.4 370.6,1085.1 371.5,1109.1 372.5,1085.6 373.4,1114.7 374.4,1081.9 375.3,1108.3 376.3,1084.4 377.2,1106.8 378.2,1080.4 379.1,1108.4 380.1,1090.3 381,1112.4 382,1088 382.9,1114.8 383.9,1087.3 384.8,1111.2 385.8,1083.8 386.7,1108.9 387.7,1090.5 388.6,1115 389.6,1085.9 390.5,1103.9 391.5,1089.4 392.4,1107.9 393.4,1082.8 394.3,1116.5 395.3,1082.4 396.2,1108.3 397.2,1082.7 398.1,1108.3 399.1,1086.1 400,1103.1 401,1090.6 401.9,1109 402.9,1098.8 403.8,1113.6 404.8,1089.3 405.7,1107.4 406.7,1089.3 407.6,1110.8 408.6,1090.7 409.5,1108.9 410.5,1083.7 411.4,1114.1 412.4,1089.2 413.3,1115.2 414.3,1090.6 415.2,1101 416.2,1078.4 417.1,1115.2 418.1,1087.8 419,1106.2 420,1080.9 420.9,1109.4 421.9,1090.4 422.8,1111.1 423.8,1084.4 424.7,1109 425.7,1088.8 426.6,1104.1 427.6,1081.2 428.5,1106.6 429.5,1084.8 430.4,1104.6 431.4,1077.2 432.3,1100.6 433.3,1082.3 434.2,1100.3 435.2,1087.7 436.1,1105.1 437.1,1084.6 438,1110.3 439,1089.4 439.9,1107.6 440.9,1084.6 441.8,1108.2 442.8,1088.3 443.7,1100.7 444.7,1088.4 445.6,1108.6 446.6,1085.4 447.5,1106.3 448.5,1085.8 449.4,1107 450.4,1088.8 451.3,1101.7 452.3,1069.3 453.2,1109.3 454.2,1085.7 455.1,1105.1 456.1,1084.8 457,1106 458,1085.9 458.9,1102 459.9,1082.4 460.8,1111.8 461.8,1083.5 462.7,1105 463.7,1087.6 464.6,1102.2 465.6,1079.9 466.5,1104.5 467.5,1085.4 468.4,1105.8 469.4,1082.8 470.3,1108.8 471.3,1088.1 472.2,1103.9 473.2,1087.1 474.1,1108.5 475.1,1091.2 476,1112.1 477,1089.6 477.9,1108.4 478.9,1089.9 479.8,1106.7 480.8,1091.2 481.7,1110.3 482.7,1086.5 483.6,1110.1 484.6,1090.4 485.5,1108.9 486.5,1089.2 487.4,1107.3 488.4,1086.2 489.3,1109.2 490.3,1089.5 491.2,1109.6 492.2,1094.5 493.1,1111.8 494.1,1091.6 495,1106.8 496,1085.8 496.9,1109.9 497.9,1092.6 498.8,1108.8 499.8,1097.9 500.7,1111.2 501.7,1089.7 502.6,1114.3 503.6,1093.1 504.5,1106.5 505.5,1087.5 506.4,1109.9 507.4,1089.3 508.3,1109.9 509.3,1092.7 510.2,1117.9 511.2,1097.1 512.1,1117.4 513.1,1094.6 514,1113.8 515,1093 515.9,1108.8 516.9,1090.8 517.8,1111.8 518.8,1089.8 519.7,1118.3 520.7,1093.9 521.6,1112.1 522.6,1090.2 523.5,1115.3 524.5,1091.2 525.4,1107.9 526.4,1093.1 527.3,1108.6 528.3,1096.1 529.2,1110.8 530.2,1096.2 531.1,1112.7 532.1,1094.1 533,1111.3 534,1091.6 534.9,1109.8 535.9,1095.2 536.8,1111.6 537.8,1096.3 538.7,1116.5 539.7,1090.8 540.6,1112.6 541.6,1094.5 542.5,1112.2 543.5,1090.6 544.4,1111.7 545.4,1088.6 546.3,1107.9 547.3,1095.8 548.2,1111.1 549.2,1090.9 550.1,1113.7 551.1,1094.8 552,1111.8 553,1091.4 553.9,1110.8 554.9,1094.7 555.8,1113.7 556.8,1094.6 557.7,1114.8 558.7,1094.7 559.6,1109.6 560.6,1091.7 561.5,1112 562.5,1095.7 563.4,1115.4 564.4,1089.3 565.3,1112.8 566.3,1093.5 567.2,1112 568.2,1096.7 569.1,1115.8 570.1,1093.2 571,1117.2 572,1097.3 572.9,1111.9 573.9,1093.8 574.8,1109.8 575.8,1093.4 576.7,1119.5 577.7,1097.3 578.6,1114.9 579.6,1096.7 580.5,1113.7 581.5,1090.2 582.4,1114.8 583.4,1094.1 584.3,1119.2 585.3,1091.8 586.2,1117.5 587.2,1094.3 588.1,1109.9 589.1,1096.8 590,1115 591,1095.2 591.9,1110.9 592.9,1096.6 593.8,1112.3 594.8,1098 595.7,1114.1 596.7,1094.4 597.6,1115.6 598.6,1097.3 599.5,1122.2 600.5,1095.6 601.4,1116 602.4,1095.6 603.3,1115.9 604.3,1093.2 605.2,1118.6 606.2,1094.7 607.1,1112 608.1,1086.8 609,1104.7 610,1082 610.9,1104.1 611.9,1085 612.8,1108.7 613.8,1087.9 614.7,1108.4 615.7,1087.5 616.6,1108.2 617.6,1087.6 618.5,1105.9 619.5,1084.6 620.4,1100.3 621.4,1089 622.3,1105.8 623.3,1089.1 624.2,1107.3 625.2,1085.3 626.1,1105.6 627.1,1083 628,1113.2 629,1090.1 629.9,1108.7 630.9,1090.9 631.8,1112.7 632.8,1081.9 633.7,1104.7 634.7,1086.1 635.6,1103.4 636.6,1084.1 637.5,1101.6 638.5,1086.4 639.4,1105.5 640.4,1085.1 641.3,1104.2 642.3,1079.4 643.2,1107.3 644.2,1086.3 645.1,1103.5 646.1,1088 647,1105.4 648,1089.2 648.9,1103.8 649.9,1087.7 650.8,1108.8 651.8,1083.9 652.7,1103.1 653.7,1081.6 654.6,1105.1 655.6,1079.3 656.5,1101.3 657.5,1080.2 658.4,1099 659.4,1080.8 660.3,1105 661.3,1070.5 662.2,1106.6 663.2,1083.6 664.1,1102.7 665.1,1080.4 666,1101.2 667,1079.1 667.9,1101.6 668.9,1085.5 669.8,1104.9 670.8,1084.6 671.7,1106 672.7,1086.5 673.6,1105.3 674.6,1091.8 675.5,1113.6 676.5,1087.6 677.4,1107.9 678.4,1081.6 679.3,1107.7 680.3,1082 681.2,1105.6 682.2,1090.6 683.1,1103.3 684.1,1082.4 685,1106 686,1088 686.9,1103 687.9,1085.6 688.8,1106.8 689.8,1088.9 690.7,1107.9 691.7,1088.4 692.6,1105.7 693.6,1084.7 694.5,1105.8 695.5,1089.1 696.4,1104.9 697.4,1091.7 698.3,1105.6 699.3,1093.1 700.2,1108.4 701.2,1089.7 702.1,1107.6 703.1,1090.5 704,1110 705,1093.9 705.9,1109.4 706.9,1083.8 707.8,1108.1 708.8,1087.9 709.7,1114.2 710.7,1087.3 711.6,1108.7 712.6,1094.2 713.5,1111.4 714.5,1094.8 715.4,1116 716.4,1090.2 717.3,1110.5 718.3,1093.2 719.2,1112.8 720.2,1094.3 721.1,1108.8 722.1,1086.8 723,1104.8 724,1088.2 724.9,1112.7 725.9,1088.8 726.8,1108.3 727.8,1086.5 728.7,1104.9 729.7,1089.5 730.6,1106 731.6,1091.4 732.5,1107.2 733.5,1091.8 734.4,1105.6 735.4,1085.8 736.3,1115.9 737.3,1091.6 738.2,1109.9 739.2,1088.3 740.1,1109.9 741.1,1090.2 742,1109.7 743,1089.1 743.9,1109.7 744.9,1096.2 745.8,1114.7 746.8,1092.7 747.7,1112.8 748.7,1091.2 749.6,1110.6 750.6,1093.5 751.5,1111.1 752.5,1090.3 753.4,1107.9 754.4,1088.9 755.3,1110.1 756.3,1093.9 757.2,1107.9 758.2,1091.5 759.1,1108 760.1,1092.8 761,1108.7 762,1089.8 762.9,1109.5 763.9,1092.2 764.8,1106.2 765.8,1090 766.7,1104.4 767.7,1087.9 768.6,1108.7 769.6,1094 770.5,1109.2 771.5,1093 772.4,1105.1 773.4,1088.5 774.3,1110.1 775.3,1085.9 776.2,1107 777.2,1086.8 778.1,1110 779.1,1091.3 780,1110.6 781,1089.4 781.9,1107.3 782.9,1089.2 783.8,1107.7 784.8,1090.8 785.7,1108.5 786.7,1087 787.6,1109.6 788.6,1092.7 789.5,1108.7 790.5,1087.9 791.4,1108.6 792.4,1090.1 793.3,1114.7 794.3,1084.5 795.2,1108.4 796.2,1088.8 797.1,1106.1 798.1,1083.6 799,1104 800,1085.4 800.9,1108.4 801.9,1091.8 802.8,1109.2 803.8,1082.4 804.7,1106.3 805.7,1086.5 806.6,1099.7 807.6,1083.2 808.5,1105.1 809.5,1082.5 810.4,1102.1 811.4,1088.4 812.3,1105 813.3,1083.6 814.2,1104 815.2,1092.9 816.1,1110.9 817.1,1088 818,1106.7 819,1091.1 819.9,1109.3 820.9,1087.3 821.8,1104.8 822.8,1090.7 823.7,1112 824.7,1088.5 825.6,1110.9 826.6,1092.2 827.5,1110.5 828.5,1088.3 829.4,1103.8 830.4,1089 831.3,1110.7 832.3,1083.8 833.2,1107.6 834.2,1078 835.1,1113.3 836.1,1090.3 837,1106.5 838,1091.3 838.9,1108.2 839.9,1088.7 840.8,1112.3 841.8,1083.9 842.7,1106.4 843.7,1089.2 844.6,1103 845.6,1081 846.5,1106.7 847.5,1074 848.4,1106.3 849.4,1082.3 850.3,1108.8 851.3,1081.3 852.2,1106.2 853.2,1089.1 854.1,1107.2 855.1,1090.8 856,1105.3 857,1088.1 857.9,1113.7 858.9,1084.4 859.8,1099.7 860.8,1088.1 861.7,1104.4 862.7,1078.2 863.6,1104.7 864.6,1078 865.5,1107 866.5,1085.2 867.4,1109.1 868.4,1087.7 869.3,1102.8 870.3,1090.9 871.2,1114.9 872.2,1086.9 873.1,1107.5 874.1,1085.3 875,1113.4 876,1084.5 876.9,1107.7 877.9,1086.1 878.8,1108.4 879.8,1082.5 880.7,1103.1 881.7,1084.7 882.6,1104.2 883.6,1082.9 884.5,1104.9 885.5,1085.5 886.4,1103.5 887.4,1082.8 888.3,1096.9 889.3,1084.9 890.2,1103.7 891.2,1088.1 892.1,1105.5 893.1,1087.9 894,1105.4 895,1085.3 895.9,1106.2 896.9,1082.8 897.8,1103.6 898.8,1084.3 899.7,1109.6 900.7,1090.5 901.6,1104.2 902.6,1078.5 903.5,1108.4 904.5,1078.1 905.4,1112.4 906.4,1084.8 907.3,1103 908.3,1073.5 909.2,1101 910.2,1084.9 911.1,1107.3 912.1,1077.8 913,1108.8 914,1083.9 914.9,1102.9 915.9,1089.8 916.8,1103.7 917.8,1084.8 918.7,1115.7 919.7,1090.6 920.6,1106.8"/>
<rect x="298.8" y="1150" width="9.5" height="27.3" fill="#e000e0"/>
<rect x="308" y="1150" width="154.8" height="27.3" fill="#27fce6"/>
<rect x="462.5" y="1150" width="152.7" height="27.3" fill="#e000e0"/>
<rect x="614.9" y="1150" width="155.5" height="27.3" fill="#27fce6"/>
<rect x="770.1" y="1150" width="151.7" height="27.3" fill="#e000e0"/>
<text x="880.5" y="693.9">50 pA</text>
<path d="M971.7 659.2 V705.6 H1008.9" fill="none" stroke="#000" stroke-width="4.4" stroke-linejoin="miter"/>
<text x="973" y="735.3">1s</text>
</g>
<g id="panel-b">
<text x="1064" y="23.3" font-weight="bold">b</text>
<path d="M1194.6 80.5 H1202.1 V497.4" fill="none" stroke="#000" stroke-width="3.6" stroke-linecap="round" stroke-linejoin="miter"/>
<path d="M1194.6 497.4 H1927.3" fill="none" stroke="#000" stroke-width="3.6" stroke-linecap="round"/>
<line x1="1325.3" y1="497.4" x2="1325.3" y2="505.6" stroke="#000" stroke-width="3.6" stroke-linecap="butt"/>
<line x1="1570.6" y1="497.4" x2="1570.6" y2="505.6" stroke="#000" stroke-width="3.6" stroke-linecap="butt"/>
<line x1="1816.6" y1="497.4" x2="1816.6" y2="505.6" stroke="#000" stroke-width="3.6" stroke-linecap="butt"/>
<text x="1178.8" y="90" text-anchor="end">8</text>
<text x="1178.2" y="507.6" text-anchor="end">0</text>
<circle cx="1239.4" cy="79" r="15.3" fill="#000"/>
<text x="1280" y="90">WT</text>
<text transform="translate(1100.7 379) rotate(-90)"><tspan class="ser" font-size="34">&#916;</tspan>I<tspan font-size="24" dx="-1.6" dy="11.2">480nm-365nm</tspan></text>
<text transform="translate(1145.3 339.2) rotate(-90)">(pA/pF)</text>
<polyline fill="none" stroke="#000" stroke-width="3.2" stroke-linejoin="round" points="1325.3,495.9 1447.4,454.4 1570.5,395 1693.4,304.6 1815.8,198.8"/>
<line x1="1693.4" y1="280.4" x2="1693.4" y2="328.2" stroke="#000" stroke-width="3.1" stroke-linecap="butt"/>
<line x1="1815.8" y1="170.9" x2="1815.8" y2="226.4" stroke="#000" stroke-width="3.1" stroke-linecap="butt"/>
<circle cx="1325.3" cy="495.9" r="15" fill="#000"/>
<circle cx="1447.4" cy="454.4" r="15" fill="#000"/>
<circle cx="1570.5" cy="395" r="15" fill="#000"/>
<circle cx="1693.4" cy="304.6" r="15" fill="#000"/>
<circle cx="1815.8" cy="198.8" r="15" fill="#000"/>
<text x="1326.3" y="468.9" text-anchor="middle">(10)</text>
<text x="1448.2" y="427.6" text-anchor="middle">(9)</text>
<text x="1569" y="363.8" text-anchor="middle">(11)</text>
<text x="1693" y="271.2" text-anchor="middle">(11)</text>
<text x="1816.3" y="160.5" text-anchor="middle">(11)</text>
<text x="1324.3" y="537.6" text-anchor="middle">-80</text>
<text x="1570.2" y="537.6" text-anchor="middle">-40</text>
<text x="1817.6" y="537.6" text-anchor="middle">0</text>
<text x="1871.6" y="557.7">Vm (mV)</text>
</g>
<g id="panel-d">
<text x="1064.5" y="660" font-weight="bold">d</text>
<path d="M1195.4 721.9 H1202.4 V1140.5" fill="none" stroke="#000" stroke-width="3.6" stroke-linecap="round" stroke-linejoin="miter"/>
<path d="M1194.8 1140.5 H1928" fill="none" stroke="#000" stroke-width="3.6" stroke-linecap="round"/>
<line x1="1324.8" y1="1140.5" x2="1324.8" y2="1148.8" stroke="#000" stroke-width="3.6" stroke-linecap="butt"/>
<line x1="1570.9" y1="1140.5" x2="1570.9" y2="1148.8" stroke="#000" stroke-width="3.6" stroke-linecap="butt"/>
<line x1="1817.5" y1="1140.5" x2="1817.5" y2="1148.8" stroke="#000" stroke-width="3.6" stroke-linecap="butt"/>
<text x="1178.6" y="718.9" text-anchor="end">8</text>
<text x="1178.2" y="1135.9" text-anchor="end">0</text>
<circle cx="1237.8" cy="678.3" r="15.3" fill="#000"/>
<circle cx="1237.8" cy="748.4" r="14.1" fill="#999999" stroke="#000" stroke-width="2.4"/>
<circle cx="1237.8" cy="842.8" r="14.1" fill="#fff" stroke="#000" stroke-width="2.4"/>
<text x="1273.6" y="687.1">WT</text>
<text x="1273" y="760.7">T1<tspan font-size="24" dy="-9.6">-/-</tspan><tspan dy="9.6">/T2</tspan><tspan font-size="24" dy="-9.6">-/-</tspan></text>
<text x="1273" y="837.3">T1<tspan font-size="24" dy="-9.6">-/-</tspan><tspan dy="9.6">/T2</tspan><tspan font-size="24" dy="-9.6">-/-</tspan><tspan dy="9.6"> +</tspan></text>
<text x="1273" y="872.9">TRESK MT1</text>
<text transform="translate(1100.7 1024) rotate(-90)"><tspan class="ser" font-size="34">&#916;</tspan>I<tspan font-size="24" dx="-1.6" dy="11.2">480nm-365nm</tspan></text>
<text transform="translate(1145.7 984.6) rotate(-90)">(pA/pF)</text>
<polyline fill="none" stroke="#000" stroke-width="3.2" stroke-linejoin="round" points="1324.6,1137.8 1447.9,1095.7 1570.9,1036.6 1694.4,945.5 1817.5,838.9"/>
<line x1="1694.4" y1="921.5" x2="1694.4" y2="969" stroke="#000" stroke-width="3.1" stroke-linecap="butt"/>
<line x1="1817.5" y1="811" x2="1817.5" y2="866.6" stroke="#000" stroke-width="3.1" stroke-linecap="butt"/>
<circle cx="1324.6" cy="1137.8" r="15" fill="#000"/>
<circle cx="1447.9" cy="1095.7" r="15" fill="#000"/>
<circle cx="1570.9" cy="1036.6" r="15" fill="#000"/>
<circle cx="1694.4" cy="945.5" r="15" fill="#000"/>
<circle cx="1817.5" cy="838.9" r="15" fill="#000"/>
<polyline fill="none" stroke="#000" stroke-width="3.0" stroke-linejoin="round" points="1324.8,1143.6 1448,1130.6 1571,1106.8 1694.4,1084.8 1817.5,1071"/>
<circle cx="1324.8" cy="1143.6" r="13.5" fill="#999999" stroke="#000" stroke-width="2.8"/>
<circle cx="1448" cy="1130.6" r="13.5" fill="#999999" stroke="#000" stroke-width="2.8"/>
<circle cx="1571" cy="1106.8" r="13.5" fill="#999999" stroke="#000" stroke-width="2.8"/>
<circle cx="1694.4" cy="1084.8" r="13.5" fill="#999999" stroke="#000" stroke-width="2.8"/>
<circle cx="1817.5" cy="1071" r="13.5" fill="#999999" stroke="#000" stroke-width="2.8"/>
<polyline fill="none" stroke="#000" stroke-width="3.0" stroke-linejoin="round" points="1325,1144.4 1448.1,1138.8 1571,1136.4 1693.9,1121.9 1817,1104.9"/>
<circle cx="1325" cy="1144.4" r="13.5" fill="#fff" stroke="#000" stroke-width="2.8"/>
<circle cx="1448.1" cy="1138.8" r="13.5" fill="#fff" stroke="#000" stroke-width="2.8"/>
<circle cx="1571" cy="1136.4" r="13.5" fill="#fff" stroke="#000" stroke-width="2.8"/>
<circle cx="1693.9" cy="1121.9" r="13.5" fill="#fff" stroke="#000" stroke-width="2.8"/>
<circle cx="1817" cy="1104.9" r="13.5" fill="#fff" stroke="#000" stroke-width="2.8"/>
<text x="1448.4" y="1080.2" text-anchor="middle" font-size="31.5">***</text>
<text x="1570.8" y="1023.9" text-anchor="middle" font-size="31.5">***</text>
<text x="1694.5" y="921.9" text-anchor="middle" font-size="31.5">***</text>
<text x="1817.9" y="811.6" text-anchor="middle" font-size="31.5">***</text>
<text x="1571.2" y="1085.8" text-anchor="middle">###</text>
<text x="1694.7" y="1062.3" text-anchor="middle">###</text>
<text x="1817.5" y="1050" text-anchor="middle">#</text>
<text x="1324.3" y="1185.3" text-anchor="middle">-80</text>
<text x="1570.2" y="1185.3" text-anchor="middle">-40</text>
<text x="1817.8" y="1185.3" text-anchor="middle">0</text>
<text x="1873.2" y="1205.5">Vm (mV)</text>
</g>
<g id="panel-e">
<text x="-1.5" y="1290.5" font-weight="bold">e</text>
<text x="43.3" y="1423.3">10 mV</text>
<path d="M144.5 1393.5 V1432.8 H180.6" fill="none" stroke="#000" stroke-width="4.2" stroke-linejoin="miter"/>
<text x="144" y="1464.8">1s</text>
<polyline fill="none" stroke="#000" stroke-width="1.9" stroke-linejoin="round" stroke-linecap="round" points="0,1718 1,1716.1 2,1717.3 3,1717.9 4,1718.7 5,1717.1 6,1715.1 7,1713.5 8,1714.3 9,1714.2 10,1711.2 11,1708.1 12,1707.8 13,1712.2 14,1711.3 15,1709.8 16,1712.9 17,1712.5 18,1712.8 19,1712.6 20,1711.9 21,1713.1 22,1711.9 23,1712.5 24,1715.1 25,1716.9 26,1715 27,1718.1 28,1718.4 29,1720.8 30,1720.6 31,1722.3 32,1721.3 33,1720.1 34,1718.2 35,1718.2 36,1716.4 37,1715.1 38,1716.3 39,1714 40,1716.4 41,1715.2 42,1711.1 43,1713.5 44,1711.2 45,1712.1 46,1711.5 47,1708.5 48,1711.4 49,1712 50,1714.3 51,1714 52,1719.1 53,1719.3 54,1722.3 55,1721.4 56,1724.2 57,1722.8 58,1725 59,1722.5 60,1722.5 61,1722.3 62,1720.2 63,1721.4 64,1723.8 65,1722 66,1723.2 67,1723.5 68,1724.8 69,1724 70,1724.8 71,1725.1 72,1724.6 73,1723.1 74,1725.2 75,1722.1 76,1721.9 77,1721.6 78,1724.3 79,1722.8 80,1722.2 81,1722.2 82,1724.5 83,1722.8 84,1722.7 85,1725.4 86,1723.3 87,1724.4 88,1724.3 89,1723.3 90,1723.3 91,1724.6 92,1721.8 93,1720.3 94,1719.1 95,1720.7 96,1720.8 97,1721.9 98,1721.3 99,1721.6 100,1721.6 101,1722.1 102,1723.3 103,1722.9 104,1723.8 105,1726.5 106,1723.8 107,1720.3 108,1723.8 109,1721.1 110,1718.6 111,1720.2 112,1718.5 113,1717.1 114,1716.6 115,1715.6 116,1716.4 117,1717.2 118,1715.7 119,1717.1 120,1719.3 121,1715.7 122,1718 123,1717.6 124,1717.1 125,1717.5 126,1719.3 127,1720.3 128,1719.5 129,1720.3 130,1720.4 131,1719.1 132,1719 133,1717.7 134,1717 135,1717.9 136,1715.6 137,1714.2 138,1714.3 139,1711.5 140,1711.6 141,1712.4 142,1711.6 143,1712.1 144,1709.5 145,1706.9 146,1712.4 147,1712.3 148,1710.6 149,1714.8 150,1714.7 151,1714 152,1717.5 153,1716.6 154,1718.6 155,1714.7 156,1714.7 157,1713.9 158,1713 159,1711.6 160,1712.3 161,1712.5 162,1710.9 163,1708 164,1706.7 165,1707.4 166,1705.4 167,1704.6 168,1702.3 169,1706.8 170,1706 171,1704.2 172,1707.2 173,1706.3 174,1700.1 175,1701.1 176,1699.9 177,1700.6 178,1700.6 179,1701.6 180,1702.9 181,1706.4 182,1708.4 183,1706.5 184,1707.5 185,1713.8 186,1710.6 187,1712.8 188,1713 189,1713.1 190,1713.3 191,1712 192,1709.9 193,1710.1 194,1708.3 195,1708.9 196,1704.9 197,1703.8 198,1708.2 199,1715.4 200,1711.4 201,1708 202,1708.6 203,1708 204,1708.6 205,1704.9 206,1706.2 207,1706 208,1703.7 209,1704.1 210,1706.3 211,1705.9 212,1704.4 213,1703 213.6,1701.8 214.2,1700.8 214.8,1699.3 215.4,1696.9 216,1692.9 216.6,1686.1 217.2,1674 217.8,1652.4 218.1,1382.2 218.8,1766 219.5,1742.7 220.2,1728.9 220.9,1720.7 221.6,1715.6 222.3,1712.3 223,1710.1 223.7,1708.6 224.4,1707.4 224.7,1706.4 225.7,1705.4 226.7,1704.6 227.7,1702.8 228.7,1703.1 229.7,1702.2 230.3,1696.3 230.9,1691.3 231.5,1682.7 232.1,1667.8 232.7,1641.2 232.8,1384.6 233.5,1763 234.2,1741.6 234.9,1728.7 235.6,1720.9 236.3,1715.9 237,1712.6 237.7,1710.3 238,1708 239,1705.5 240,1705.1 241,1701.1 241.6,1696.2 242.2,1692 242.8,1684.9 243.4,1672.6 244,1650.7 244.3,1380 245,1757.5 245.7,1740.2 246.4,1729.8 247.1,1723.3 247.8,1719.2 248.5,1716.5 249.2,1714.5 250,1712 251,1710.5 252,1703.2 253,1703.1 254,1702.6 255,1696.9 256,1697 257,1697 257.6,1689.8 258.2,1683.8 258.8,1673.5 259.4,1655.4 259.9,1383.4 260.6,1758 261.3,1738 262,1726.1 262.7,1718.9 263.4,1714.5 264.1,1711.7 264.8,1709.7 265.5,1708.3 266.2,1707.2 266.9,1706 267.9,1703.9 268.9,1704.2 269.9,1703.4 270.9,1705.6 271.9,1706.1 272.9,1705.9 273.9,1706.2 274.9,1707.7 275.9,1710.3 276.9,1707.4 277.9,1705.1 278.9,1701.4 279.9,1697.2 280.9,1695.3 281.9,1694.3 282.9,1690.9 283.9,1689.3 284.9,1689.1 285.9,1692.1 286.9,1689.9 287.9,1688.1 288.9,1686.3 289.9,1687.7 290.9,1688.5 291.9,1690.3 292.9,1691.1 293.9,1692.5 294.9,1692.6 295.9,1691.9 296.9,1694.6 297.9,1697.9 298.9,1699.3 299.9,1704.3 300.9,1709 301.9,1710.4 302.9,1713.1 303.9,1716 304.9,1713.1 305.9,1712.5 306.9,1708.4 307.9,1712.4 308.9,1711.2 309.9,1710.3 310.9,1710.1 311.9,1710.9 312.9,1710.7 313.9,1710.9 314.9,1710.9 315.9,1715.1 316.9,1714.6 317.9,1715.9 318.9,1717 319.9,1715 320.9,1719.9 321.9,1718.4 322.9,1718 323.9,1718 324.9,1716.2 325.9,1718.1 326.9,1715.6 327.9,1714.9 328.9,1715 329.9,1716.5 330.9,1717.4 331.9,1715.8 332.9,1714.7 333.9,1718.2 334.9,1715.6 335.9,1719.3 336.9,1718.5 337.9,1718.5 338.9,1719.4 339.9,1721.7 340.9,1723.1 341.9,1722.4 342.9,1724.6 343.9,1726.9 344.9,1724.6 345.9,1724.1 346.9,1724.9 347.9,1724.2 348.9,1724.9 349.9,1724.5 350.9,1723.4 351.9,1725.6 352.9,1721.2 353.9,1722.6 354.9,1726.6 355.9,1725.5 356.9,1725 357.9,1725 358.9,1726.9 359.9,1725.4 360.9,1724.9 361.9,1723.4 362.9,1722.8 363.9,1719.6 364.9,1717.3 365.9,1714.6 366.9,1712.7 367.9,1709.6 368.9,1713 369.9,1712.1 370.9,1716 371.9,1721.2 372.9,1720.2 373.9,1720.7 374.9,1719.6 375.9,1718.8 376.9,1717.1 377.9,1713.6 378.9,1714.4 379.9,1713.6 380.9,1711 381.9,1707.1 382.9,1700.9 383.9,1698 384.9,1698.3 385.9,1697.3 386.9,1697.3 387.9,1697.7 388.9,1700.5 389.9,1703.2 390.9,1708.9 391.9,1715.3 392.9,1719.9 393.9,1724 394.9,1722.4 395.9,1720.4 396.9,1717.3 397.9,1716.7 398.9,1717.4 399.9,1716 400.9,1715.9 401.9,1713.8 402.9,1714.5 403.9,1719.5 404.9,1720.5 405.9,1721.5 406.9,1719.2 407.9,1717.2 408.9,1715.5 409.9,1712.3 410.9,1714.8 411.9,1712.5 412.9,1713.5 413.9,1712.7 414.9,1712.4 415.9,1712.8 416.9,1710.5 417.9,1710.2 418.9,1709.1 419.9,1710.5 420.9,1715.1 421.9,1714.3 422.9,1718.1 423.9,1719.3 424.9,1720.9 425.9,1720.5 426.9,1716.5 427.9,1716.8 428.9,1716.8 429.9,1712.3 430.9,1712.3 431.9,1710.7 432.9,1711.2 433.9,1708.7 434.9,1711.6 435.9,1708.4 436.9,1706.3 437.9,1710 438.9,1707.9 439.9,1706.1 440.9,1705 441.9,1702.8 442.9,1701.8 443.9,1701.7 444.9,1700.7 445.9,1699.3 446.9,1697.1 447.9,1695.9 448.9,1697.4 449.9,1700.2 450.9,1701.8 451.9,1701.2 452.9,1702.9 453.9,1706.9 454.9,1707.5 455.9,1707.9 456.9,1705.8 457.9,1707.5 458.9,1708.7 459.9,1711.3 460.9,1710.4 461.9,1714.7 462.9,1712.2 463.9,1711.1 464.9,1707.8 465.9,1708.1 466.9,1708.8 467.9,1703.9 468.9,1705.3 469.9,1704.6 470.9,1701.3 471.9,1701.7 472.9,1699.2 473.5,1694.2 474.1,1690 474.7,1682.9 475.3,1670.6 475.9,1648.7 476.2,1389.3 476.9,1756.8 477.6,1737.3 478.3,1725.4 479,1717.9 479.7,1713.1 480.6,1706.4 481.6,1704.9 482.6,1702.3 483.6,1699.9 484.2,1693.9 484.8,1688.9 485.4,1680.4 486,1665.4 486.6,1638.8 486.7,1381.8 487.4,1754 488.1,1737.4 488.8,1727.5 489.5,1721.4 490.2,1717.6 490.9,1715.1 491.6,1713.3 492.3,1712 493,1711 493.5,1710 494.5,1710.5 495.5,1706.1 496.5,1705.7 497.5,1706.3 498.5,1705.1 499.5,1702.6 500.5,1702.7 501.5,1699.6 502.5,1700.5 503.5,1698 504.5,1701.1 505.5,1701.6 506.5,1702.9 507.5,1705.3 508.5,1708.1 509.5,1701.4 510.5,1698.8 511.5,1697.6 512.5,1692.1 513.5,1691.3 514.5,1686.6 515.5,1685.8 516.5,1685.5 517.5,1684.3 518.1,1677.2 518.7,1671.2 519.3,1660.8 519.9,1642.7 520.4,1382.7 521.1,1754 521.8,1738.3 522.5,1728.9 523.2,1723.2 523.9,1719.7 524.6,1717.3 525.3,1715.7 526,1714.5 526.7,1713.6 527.4,1712.8 528,1712 529,1713.1 530,1713.1 531,1711.2 532,1711.1 533,1710.1 534,1705.1 535,1704.5 536,1704.4 537,1702.7 538,1703.6 539,1701.8 540,1703.3 541,1701.6 542,1702.1 543,1702.7 544,1701.5 545,1703 546,1703.5 547,1704.1 548,1706.2 549,1703.3 550,1703.9 551,1707.6 552,1708.8 553,1711 554,1710.2 555,1711.1 556,1707.9 557,1709 558,1707.9 559,1704.6 560,1703.8 561,1703.9 562,1705 563,1701.5 564,1706.1 565,1707 566,1707.1 567,1708.3 568,1708.8 569,1707 570,1709 571,1708.3 572,1707.6 573,1709.3 574,1712.1 575,1709.5 576,1710.5 577,1711.7 578,1717.6 579,1714.7 580,1713.2 581,1710.4 582,1708.4 583,1705.2 584,1706.2 585,1705.7 586,1702.2 587,1702.8 588,1702.6 589,1703 590,1702.1 591,1702 592,1701 593,1699.4 594,1698.9 595,1696.3 596,1697.9 597,1700.8 598,1700.4 599,1702 600,1701.3 601,1703.4 602,1708.8 603,1710.2 604,1711.3 605,1711.6 606,1709.7 607,1712.2 608,1712.8 609,1713.4 610,1711.1 611,1710.7 612,1709.6 613,1712.6 614,1713.2 615,1710.2 616,1711.4 617,1711.6 618,1711.1 619,1709.1 620,1712.3 621,1714 622,1712 623,1714 624,1712.1 625,1719.2 626,1719.4 627,1720.1 628,1721.1 629,1722.1 630,1724.2 631,1725.4 632,1726.9 633,1726.1 634,1724.6 635,1724.7 636,1719.1 637,1720.4 638,1718.4 639,1716.8 640,1714.3 641,1718.5 642,1717.5 643,1718.9 644,1721.6 645,1720.4 646,1722.7 647,1723.5 648,1724.5 649,1723.7 650,1720.2 651,1721.4 652,1719 653,1718.2 654,1716.7 655,1717.4 656,1714.3 657,1715.7 658,1716.3 659,1713.8 660,1716.3 661,1712.8 662,1714.5 663,1714 664,1714.3 665,1714.1 666,1715.3 667,1716.3 668,1715.8 669,1718.4 670,1719.6 671,1715.9 672,1717.6 673,1715.3 674,1714 675,1715.6 676,1712.6 677,1710.3 678,1709 679,1704.9 680,1707.6 681,1705 682,1705.7 683,1705.1 684,1705.7 685,1706.6 686,1704.9 687,1704.9 688,1702.6 689,1703.1 690,1703.1 691,1700.3 692,1706.8 693,1705.1 694,1706.3 695,1712.5 696,1715.5 697,1714.2 698,1715.2 699,1715 700,1706.1 701,1700.1 702,1698.6 703,1704.2 704,1704.6 705,1706.8 706,1709.6 707,1711 708,1711.8 709,1712.3 710,1717.1 711,1716.1 712,1716.1 713,1717.1 714,1714.1 715,1712.1 716,1710 717,1708.7 718,1706.9 719,1702.3 720,1704.2 721,1706.2 722,1705 723,1703.3 724,1703.8 725,1702.3 726,1704.5 727,1710.3 728,1710.8 729,1712.4 730,1713.4 731,1713.1 732,1712.3 733,1711.2 734,1709.8 735,1710.8 736,1710.8 737,1706.9 738,1705.7 739,1706.7 740,1702.1 741,1702.2 742,1701.5 743,1701.3 744,1699.7 745,1697.9 746,1699 747,1698.5 748,1699.3 749,1700.4 750,1705.2 751,1703.2 752,1707.2 753,1708.2 754,1707.3 755,1704.9 756,1703.3 757,1703.2 758,1701.4 759,1699.6 760,1702.3 761,1700 762,1704 763,1702.7 764,1701.9 765,1703.6 766,1704.8 767,1701.7 768,1702.5 769,1702.6 770,1702.5 771,1700.7 772,1698.1 772.6,1695.6 773.2,1693.4 773.8,1690 774.4,1684.2 775,1674.1 775.6,1656.2 776.1,1383.4 776.8,1754 777.5,1736.2 778.2,1725.5 778.9,1719.1 779.6,1715.1 780.3,1712.5 781,1710.8 781.7,1709.5 782.4,1708.5 783.1,1707.7 783.5,1707 784.5,1704.7 785.5,1705.3 786.5,1703.6 787.5,1703.8 788.5,1704.2 789.5,1708.6 790.5,1709.9 791.5,1711.2 792.5,1711.6 793.5,1708.8 794.5,1706.2 795.5,1707.1 796.5,1711.1 797.5,1709.7 798.5,1707.6 799.5,1703.3 800.5,1700.5 801.1,1698.2 801.7,1696.2 802.3,1693.1 802.9,1687.8 803.5,1678.6 804.1,1662.4 804.7,1633.2 804.7,1382.7 805.4,1750.4 806.1,1731.9 806.8,1720.7 807.5,1713.9 808.2,1709.6 808.9,1706.7 809.6,1704.7 810.3,1703.2 810.5,1702 811.1,1696.1 811.7,1691 812.3,1682.5 812.9,1667.5 813.5,1640.9 813.6,1381.8 814.3,1747.4 815,1731 815.7,1721 816.4,1714.8 817.1,1710.8 817.8,1708.1 818.5,1706.1 819,1704 820,1703.1 821,1698.5 822,1693.4 823,1691.6 823.6,1686.2 824.2,1681.6 824.8,1673.8 825.4,1660.2 826,1636.1 826.2,1382.7 826.9,1744.6 827.6,1732.9 828.3,1725.8 829,1721.3 829.7,1718.4 830.4,1716.4 831.1,1714.9 831.8,1713.8 832.5,1712.9 833,1712 834,1711.5 835,1711.8 836,1712.3 837,1709.2 838,1706.1 839,1704.5 840,1702.1 841,1698 842,1694.9 842.6,1691.1 843.2,1687.8 843.8,1682.4 844.4,1673.2 845,1656.9 845.6,1627.6 845.6,1384.6 846.3,1740.4 847,1727.1 847.7,1719.1 848.4,1714.1 849.1,1711 849.8,1708.9 850.5,1707.4 851.2,1706.3 851.9,1705.4 852.6,1704.6 853,1704 854,1701.4 855,1702.4 856,1700.3 857,1699.6 858,1701.6 859,1700.5 860,1703 861,1700.9 862,1700 863,1698.1 864,1696.6 865,1695 865.6,1691.8 866.2,1689.1 866.8,1684.6 867.4,1676.9 868,1663.5 868.6,1639.5 868.8,1380.4 869.5,1742 870.2,1727.1 870.9,1718.2 871.6,1712.8 872.3,1709.3 873,1707 873.7,1705.4 874.4,1704.2 875.1,1703.3 876,1702 877,1700.5 878,1694.1 879,1694.5 880,1698 881,1701.5 882,1702 883,1701 884,1696.3 885,1693.8 886,1692.6 887,1691.3 888,1687.7 889,1685.6 890,1687 891,1687.9 892,1686.5 893,1683.9 894,1685.7 895,1684.5 896,1685.8 896.6,1683.5 897.2,1681.6 897.8,1678.4 898.4,1673.1 899,1664 899.6,1647.7 900.2,1618.6 900.2,1381.8 900.9,1741.6 901.6,1728.1 902.3,1719.9 903,1714.7 903.7,1711.3 904.4,1709 905.1,1707.3 905.8,1706 906,1705 907,1702.4 908,1702.9 909,1701.3 910,1700.1 911,1701 912,1696.9 913,1695.7 914,1698.7 915,1696.6 916,1697 917,1701.8 918,1701.5 919,1702.8 920,1703.7 921,1705 922,1705.6 923,1709"/>
<polyline fill="none" stroke="#000" stroke-width="2.5" stroke-linejoin="round" stroke-linecap="round" points="0,1718 1,1716.1 2,1717.3 3,1717.9 4,1718.7 5,1717.1 6,1715.1 7,1713.5 8,1714.3 9,1714.2 10,1711.2 11,1708.1 12,1707.8 13,1712.2 14,1711.3 15,1709.8 16,1712.9 17,1712.5 18,1712.8 19,1712.6 20,1711.9 21,1713.1 22,1711.9 23,1712.5 24,1715.1 25,1716.9 26,1715 27,1718.1 28,1718.4 29,1720.8 30,1720.6 31,1722.3 32,1721.3 33,1720.1 34,1718.2 35,1718.2 36,1716.4 37,1715.1 38,1716.3 39,1714 40,1716.4 41,1715.2 42,1711.1 43,1713.5 44,1711.2 45,1712.1 46,1711.5 47,1708.5 48,1711.4 49,1712 50,1714.3 51,1714 52,1719.1 53,1719.3 54,1722.3 55,1721.4 56,1724.2 57,1722.8 58,1725 59,1722.5 60,1722.5 61,1722.3 62,1720.2 63,1721.4 64,1723.8 65,1722 66,1723.2 67,1723.5 68,1724.8 69,1724 70,1724.8 71,1725.1 72,1724.6 73,1723.1 74,1725.2 75,1722.1 76,1721.9 77,1721.6 78,1724.3 79,1722.8 80,1722.2 81,1722.2 82,1724.5 83,1722.8 84,1722.7 85,1725.4 86,1723.3 87,1724.4 88,1724.3 89,1723.3 90,1723.3 91,1724.6 92,1721.8 93,1720.3 94,1719.1 95,1720.7 96,1720.8 97,1721.9 98,1721.3 99,1721.6 100,1721.6 101,1722.1 102,1723.3 103,1722.9 104,1723.8 105,1726.5 106,1723.8 107,1720.3 108,1723.8 109,1721.1 110,1718.6 111,1720.2 112,1718.5 113,1717.1 114,1716.6 115,1715.6 116,1716.4 117,1717.2 118,1715.7 119,1717.1 120,1719.3 121,1715.7 122,1718 123,1717.6 124,1717.1 125,1717.5 126,1719.3 127,1720.3 128,1719.5 129,1720.3 130,1720.4 131,1719.1 132,1719 133,1717.7 134,1717 135,1717.9 136,1715.6 137,1714.2 138,1714.3 139,1711.5 140,1711.6 141,1712.4 142,1711.6 143,1712.1 144,1709.5 145,1706.9 146,1712.4 147,1712.3 148,1710.6 149,1714.8 150,1714.7 151,1714 152,1717.5 153,1716.6 154,1718.6 155,1714.7 156,1714.7 157,1713.9 158,1713 159,1711.6 160,1712.3 161,1712.5 162,1710.9 163,1708 164,1706.7 165,1707.4 166,1705.4 167,1704.6 168,1702.3 169,1706.8 170,1706 171,1704.2 172,1707.2 173,1706.3 174,1700.1 175,1701.1 176,1699.9 177,1700.6 178,1700.6 179,1701.6 180,1702.9 181,1706.4 182,1708.4 183,1706.5 184,1707.5 185,1713.8 186,1710.6 187,1712.8 188,1713 189,1713.1 190,1713.3 191,1712 192,1709.9 193,1710.1 194,1708.3 195,1708.9 196,1704.9 197,1703.8 198,1708.2 199,1715.4 200,1711.4 201,1708 202,1708.6 203,1708 204,1708.6 205,1704.9 206,1706.2 207,1706 208,1703.7 209,1704.1 210,1706.3 211,1705.9 212,1704.4 213,1703 213.6,1701.8 214.2,1700.8 214.8,1699.3 215.4,1696.9 216,1692.9 216.6,1686.1"/>
<polyline fill="none" stroke="#000" stroke-width="2.5" stroke-linejoin="round" stroke-linecap="round" points="222.3,1712.3 223,1710.1 223.7,1708.6 224.4,1707.4 224.7,1706.4 225.7,1705.4 226.7,1704.6 227.7,1702.8 228.7,1703.1 229.7,1702.2 230.3,1696.3 230.9,1691.3 231.5,1682.7"/>
<polyline fill="none" stroke="#000" stroke-width="2.5" stroke-linejoin="round" stroke-linecap="round" points="235.6,1720.9 236.3,1715.9 237,1712.6 237.7,1710.3 238,1708 239,1705.5 240,1705.1 241,1701.1 241.6,1696.2 242.2,1692 242.8,1684.9"/>
<polyline fill="none" stroke="#000" stroke-width="2.5" stroke-linejoin="round" stroke-linecap="round" points="247.1,1723.3 247.8,1719.2 248.5,1716.5 249.2,1714.5 250,1712 251,1710.5 252,1703.2 253,1703.1 254,1702.6 255,1696.9 256,1697 257,1697 257.6,1689.8 258.2,1683.8"/>
<polyline fill="none" stroke="#000" stroke-width="2.5" stroke-linejoin="round" stroke-linecap="round" points="264.1,1711.7 264.8,1709.7 265.5,1708.3 266.2,1707.2 266.9,1706 267.9,1703.9 268.9,1704.2 269.9,1703.4 270.9,1705.6 271.9,1706.1 272.9,1705.9 273.9,1706.2 274.9,1707.7 275.9,1710.3 276.9,1707.4 277.9,1705.1 278.9,1701.4 279.9,1697.2 280.9,1695.3 281.9,1694.3 282.9,1690.9 283.9,1689.3 284.9,1689.1 285.9,1692.1 286.9,1689.9 287.9,1688.1 288.9,1686.3 289.9,1687.7 290.9,1688.5 291.9,1690.3 292.9,1691.1 293.9,1692.5 294.9,1692.6 295.9,1691.9 296.9,1694.6 297.9,1697.9 298.9,1699.3 299.9,1704.3 300.9,1709 301.9,1710.4 302.9,1713.1 303.9,1716 304.9,1713.1 305.9,1712.5 306.9,1708.4 307.9,1712.4 308.9,1711.2 309.9,1710.3 310.9,1710.1 311.9,1710.9 312.9,1710.7 313.9,1710.9 314.9,1710.9 315.9,1715.1 316.9,1714.6 317.9,1715.9 318.9,1717 319.9,1715 320.9,1719.9 321.9,1718.4 322.9,1718 323.9,1718 324.9,1716.2 325.9,1718.1 326.9,1715.6 327.9,1714.9 328.9,1715 329.9,1716.5 330.9,1717.4 331.9,1715.8 332.9,1714.7 333.9,1718.2 334.9,1715.6 335.9,1719.3 336.9,1718.5 337.9,1718.5 338.9,1719.4 339.9,1721.7 340.9,1723.1 341.9,1722.4 342.9,1724.6 343.9,1726.9 344.9,1724.6 345.9,1724.1 346.9,1724.9 347.9,1724.2 348.9,1724.9 349.9,1724.5 350.9,1723.4 351.9,1725.6 352.9,1721.2 353.9,1722.6 354.9,1726.6 355.9,1725.5 356.9,1725 357.9,1725 358.9,1726.9 359.9,1725.4 360.9,1724.9 361.9,1723.4 362.9,1722.8 363.9,1719.6 364.9,1717.3 365.9,1714.6 366.9,1712.7 367.9,1709.6 368.9,1713 369.9,1712.1 370.9,1716 371.9,1721.2 372.9,1720.2 373.9,1720.7 374.9,1719.6 375.9,1718.8 376.9,1717.1 377.9,1713.6 378.9,1714.4 379.9,1713.6 380.9,1711 381.9,1707.1 382.9,1700.9 383.9,1698 384.9,1698.3 385.9,1697.3 386.9,1697.3 387.9,1697.7 388.9,1700.5 389.9,1703.2 390.9,1708.9 391.9,1715.3 392.9,1719.9 393.9,1724 394.9,1722.4 395.9,1720.4 396.9,1717.3 397.9,1716.7 398.9,1717.4 399.9,1716 400.9,1715.9 401.9,1713.8 402.9,1714.5 403.9,1719.5 404.9,1720.5 405.9,1721.5 406.9,1719.2 407.9,1717.2 408.9,1715.5 409.9,1712.3 410.9,1714.8 411.9,1712.5 412.9,1713.5 413.9,1712.7 414.9,1712.4 415.9,1712.8 416.9,1710.5 417.9,1710.2 418.9,1709.1 419.9,1710.5 420.9,1715.1 421.9,1714.3 422.9,1718.1 423.9,1719.3 424.9,1720.9 425.9,1720.5 426.9,1716.5 427.9,1716.8 428.9,1716.8 429.9,1712.3 430.9,1712.3 431.9,1710.7 432.9,1711.2 433.9,1708.7 434.9,1711.6 435.9,1708.4 436.9,1706.3 437.9,1710 438.9,1707.9 439.9,1706.1 440.9,1705 441.9,1702.8 442.9,1701.8 443.9,1701.7 444.9,1700.7 445.9,1699.3 446.9,1697.1 447.9,1695.9 448.9,1697.4 449.9,1700.2 450.9,1701.8 451.9,1701.2 452.9,1702.9 453.9,1706.9 454.9,1707.5 455.9,1707.9 456.9,1705.8 457.9,1707.5 458.9,1708.7 459.9,1711.3 460.9,1710.4 461.9,1714.7 462.9,1712.2 463.9,1711.1 464.9,1707.8 465.9,1708.1 466.9,1708.8 467.9,1703.9 468.9,1705.3 469.9,1704.6 470.9,1701.3 471.9,1701.7 472.9,1699.2 473.5,1694.2 474.1,1690 474.7,1682.9"/>
<polyline fill="none" stroke="#000" stroke-width="2.5" stroke-linejoin="round" stroke-linecap="round" points="477.6,1737.3 478.3,1725.4 479,1717.9 479.7,1713.1 480.6,1706.4 481.6,1704.9 482.6,1702.3 483.6,1699.9 484.2,1693.9 484.8,1688.9 485.4,1680.4"/>
<polyline fill="none" stroke="#000" stroke-width="2.5" stroke-linejoin="round" stroke-linecap="round" points="490.9,1715.1 491.6,1713.3 492.3,1712 493,1711 493.5,1710 494.5,1710.5 495.5,1706.1 496.5,1705.7 497.5,1706.3 498.5,1705.1 499.5,1702.6 500.5,1702.7 501.5,1699.6 502.5,1700.5 503.5,1698 504.5,1701.1 505.5,1701.6 506.5,1702.9 507.5,1705.3 508.5,1708.1 509.5,1701.4 510.5,1698.8 511.5,1697.6 512.5,1692.1 513.5,1691.3 514.5,1686.6 515.5,1685.8 516.5,1685.5 517.5,1684.3 518.1,1677.2 518.7,1671.2"/>
<polyline fill="none" stroke="#000" stroke-width="2.5" stroke-linejoin="round" stroke-linecap="round" points="525.3,1715.7 526,1714.5 526.7,1713.6 527.4,1712.8 528,1712 529,1713.1 530,1713.1 531,1711.2 532,1711.1 533,1710.1 534,1705.1 535,1704.5 536,1704.4 537,1702.7 538,1703.6 539,1701.8 540,1703.3 541,1701.6 542,1702.1 543,1702.7 544,1701.5 545,1703 546,1703.5 547,1704.1 548,1706.2 549,1703.3 550,1703.9 551,1707.6 552,1708.8 553,1711 554,1710.2 555,1711.1 556,1707.9 557,1709 558,1707.9 559,1704.6 560,1703.8 561,1703.9 562,1705 563,1701.5 564,1706.1 565,1707 566,1707.1 567,1708.3 568,1708.8 569,1707 570,1709 571,1708.3 572,1707.6 573,1709.3 574,1712.1 575,1709.5 576,1710.5 577,1711.7 578,1717.6 579,1714.7 580,1713.2 581,1710.4 582,1708.4 583,1705.2 584,1706.2 585,1705.7 586,1702.2 587,1702.8 588,1702.6 589,1703 590,1702.1 591,1702 592,1701 593,1699.4 594,1698.9 595,1696.3 596,1697.9 597,1700.8 598,1700.4 599,1702 600,1701.3 601,1703.4 602,1708.8 603,1710.2 604,1711.3 605,1711.6 606,1709.7 607,1712.2 608,1712.8 609,1713.4 610,1711.1 611,1710.7 612,1709.6 613,1712.6 614,1713.2 615,1710.2 616,1711.4 617,1711.6 618,1711.1 619,1709.1 620,1712.3 621,1714 622,1712 623,1714 624,1712.1 625,1719.2 626,1719.4 627,1720.1 628,1721.1 629,1722.1 630,1724.2 631,1725.4 632,1726.9 633,1726.1 634,1724.6 635,1724.7 636,1719.1 637,1720.4 638,1718.4 639,1716.8 640,1714.3 641,1718.5 642,1717.5 643,1718.9 644,1721.6 645,1720.4 646,1722.7 647,1723.5 648,1724.5 649,1723.7 650,1720.2 651,1721.4 652,1719 653,1718.2 654,1716.7 655,1717.4 656,1714.3 657,1715.7 658,1716.3 659,1713.8 660,1716.3 661,1712.8 662,1714.5 663,1714 664,1714.3 665,1714.1 666,1715.3 667,1716.3 668,1715.8 669,1718.4 670,1719.6 671,1715.9 672,1717.6 673,1715.3 674,1714 675,1715.6 676,1712.6 677,1710.3 678,1709 679,1704.9 680,1707.6 681,1705 682,1705.7 683,1705.1 684,1705.7 685,1706.6 686,1704.9 687,1704.9 688,1702.6 689,1703.1 690,1703.1 691,1700.3 692,1706.8 693,1705.1 694,1706.3 695,1712.5 696,1715.5 697,1714.2 698,1715.2 699,1715 700,1706.1 701,1700.1 702,1698.6 703,1704.2 704,1704.6 705,1706.8 706,1709.6 707,1711 708,1711.8 709,1712.3 710,1717.1 711,1716.1 712,1716.1 713,1717.1 714,1714.1 715,1712.1 716,1710 717,1708.7 718,1706.9 719,1702.3 720,1704.2 721,1706.2 722,1705 723,1703.3 724,1703.8 725,1702.3 726,1704.5 727,1710.3 728,1710.8 729,1712.4 730,1713.4 731,1713.1 732,1712.3 733,1711.2 734,1709.8 735,1710.8 736,1710.8 737,1706.9 738,1705.7 739,1706.7 740,1702.1 741,1702.2 742,1701.5 743,1701.3 744,1699.7 745,1697.9 746,1699 747,1698.5 748,1699.3 749,1700.4 750,1705.2 751,1703.2 752,1707.2 753,1708.2 754,1707.3 755,1704.9 756,1703.3 757,1703.2 758,1701.4 759,1699.6 760,1702.3 761,1700 762,1704 763,1702.7 764,1701.9 765,1703.6 766,1704.8 767,1701.7 768,1702.5 769,1702.6 770,1702.5 771,1700.7 772,1698.1 772.6,1695.6 773.2,1693.4 773.8,1690 774.4,1684.2"/>
<polyline fill="none" stroke="#000" stroke-width="2.5" stroke-linejoin="round" stroke-linecap="round" points="781,1710.8 781.7,1709.5 782.4,1708.5 783.1,1707.7 783.5,1707 784.5,1704.7 785.5,1705.3 786.5,1703.6 787.5,1703.8 788.5,1704.2 789.5,1708.6 790.5,1709.9 791.5,1711.2 792.5,1711.6 793.5,1708.8 794.5,1706.2 795.5,1707.1 796.5,1711.1 797.5,1709.7 798.5,1707.6 799.5,1703.3 800.5,1700.5 801.1,1698.2 801.7,1696.2 802.3,1693.1 802.9,1687.8 803.5,1678.6"/>
<polyline fill="none" stroke="#000" stroke-width="2.5" stroke-linejoin="round" stroke-linecap="round" points="808.2,1709.6 808.9,1706.7 809.6,1704.7 810.3,1703.2 810.5,1702 811.1,1696.1 811.7,1691 812.3,1682.5"/>
<polyline fill="none" stroke="#000" stroke-width="2.5" stroke-linejoin="round" stroke-linecap="round" points="816.4,1714.8 817.1,1710.8 817.8,1708.1 818.5,1706.1 819,1704 820,1703.1 821,1698.5 822,1693.4 823,1691.6 823.6,1686.2 824.2,1681.6 824.8,1673.8"/>
<polyline fill="none" stroke="#000" stroke-width="2.5" stroke-linejoin="round" stroke-linecap="round" points="830.4,1716.4 831.1,1714.9 831.8,1713.8 832.5,1712.9 833,1712 834,1711.5 835,1711.8 836,1712.3 837,1709.2 838,1706.1 839,1704.5 840,1702.1 841,1698 842,1694.9 842.6,1691.1 843.2,1687.8 843.8,1682.4 844.4,1673.2"/>
<polyline fill="none" stroke="#000" stroke-width="2.5" stroke-linejoin="round" stroke-linecap="round" points="850.5,1707.4 851.2,1706.3 851.9,1705.4 852.6,1704.6 853,1704 854,1701.4 855,1702.4 856,1700.3 857,1699.6 858,1701.6 859,1700.5 860,1703 861,1700.9 862,1700 863,1698.1 864,1696.6 865,1695 865.6,1691.8 866.2,1689.1 866.8,1684.6 867.4,1676.9"/>
<polyline fill="none" stroke="#000" stroke-width="2.5" stroke-linejoin="round" stroke-linecap="round" points="873,1707 873.7,1705.4 874.4,1704.2 875.1,1703.3 876,1702 877,1700.5 878,1694.1 879,1694.5 880,1698 881,1701.5 882,1702 883,1701 884,1696.3 885,1693.8 886,1692.6 887,1691.3 888,1687.7 889,1685.6 890,1687 891,1687.9 892,1686.5 893,1683.9 894,1685.7 895,1684.5 896,1685.8 896.6,1683.5 897.2,1681.6 897.8,1678.4 898.4,1673.1 899,1664"/>
<polyline fill="none" stroke="#000" stroke-width="2.5" stroke-linejoin="round" stroke-linecap="round" points="903.7,1711.3 904.4,1709 905.1,1707.3 905.8,1706 906,1705 907,1702.4 908,1702.9 909,1701.3 910,1700.1 911,1701 912,1696.9 913,1695.7 914,1698.7 915,1696.6 916,1697 917,1701.8 918,1701.5 919,1702.8 920,1703.7 921,1705 922,1705.6 923,1709"/>
<rect x="2.5" y="1779" width="151.8" height="27.5" fill="#27fce6"/>
<rect x="154" y="1779" width="153.8" height="27.5" fill="#e000e0"/>
<rect x="307.5" y="1779" width="155.1" height="27.5" fill="#27fce6"/>
<rect x="462.3" y="1779" width="151.1" height="27.5" fill="#e000e0"/>
<rect x="613.1" y="1779" width="154" height="27.5" fill="#27fce6"/>
<rect x="766.8" y="1779" width="154.4" height="27.5" fill="#e000e0"/>
</g>
<g id="panel-f">
<text x="1065.4" y="1289.6" font-weight="bold">f</text>
<path d="M1202.8 1308.8 V1777.6" fill="none" stroke="#000" stroke-width="3.6" stroke-linecap="round"/>
<path d="M1195 1770.6 H1927.6" fill="none" stroke="#000" stroke-width="3.6" stroke-linecap="round"/>
<line x1="1195.2" y1="1464" x2="1202.8" y2="1464" stroke="#000" stroke-width="3.6" stroke-linecap="round"/>
<text x="1183" y="1474.6" text-anchor="end">2</text>
<text x="1182" y="1780.8" text-anchor="end">0</text>
<text transform="translate(1121.8 1645.2) rotate(-90)">Firing rate (Hz)</text>
<line x1="1297.2" y1="1751.8" x2="1746.1" y2="1482.1" stroke="#000" stroke-width="2.0" stroke-linecap="round"/>
<line x1="1449.4" y1="1771.3" x2="1746.1" y2="1366.8" stroke="#000" stroke-width="2.0" stroke-linecap="round"/>
<line x1="1471.4" y1="1771.3" x2="1724.7" y2="1655.4" stroke="#000" stroke-width="2.0" stroke-linecap="round"/>
<line x1="1362.3" y1="1771.3" x2="1746.1" y2="1591.7" stroke="#000" stroke-width="2.0" stroke-linecap="round"/>
<line x1="1406" y1="1771.3" x2="1746.1" y2="1655.4" stroke="#000" stroke-width="2.0" stroke-linecap="round"/>
<line x1="1428" y1="1771.3" x2="1767.9" y2="1655.4" stroke="#000" stroke-width="2.0" stroke-linecap="round"/>
<line x1="1384" y1="1771.3" x2="1746.1" y2="1694.1" stroke="#000" stroke-width="2.0" stroke-linecap="round"/>
<line x1="1319.2" y1="1771.3" x2="1746.1" y2="1732.8" stroke="#000" stroke-width="2.0" stroke-linecap="round"/>
<line x1="1340.8" y1="1771.3" x2="1767.9" y2="1732.8" stroke="#000" stroke-width="2.0" stroke-linecap="round"/>
<circle cx="1297.2" cy="1751.8" r="7.4" fill="#000"/>
<circle cx="1746.1" cy="1482.1" r="7.4" fill="#000"/>
<circle cx="1449.4" cy="1771.3" r="7.4" fill="#000"/>
<circle cx="1746.1" cy="1366.8" r="7.4" fill="#000"/>
<circle cx="1471.4" cy="1771.3" r="7.4" fill="#000"/>
<circle cx="1724.7" cy="1655.4" r="7.4" fill="#000"/>
<circle cx="1362.3" cy="1771.3" r="7.4" fill="#000"/>
<circle cx="1746.1" cy="1591.7" r="7.4" fill="#000"/>
<circle cx="1406" cy="1771.3" r="7.4" fill="#000"/>
<circle cx="1746.1" cy="1655.4" r="7.4" fill="#000"/>
<circle cx="1428" cy="1771.3" r="7.4" fill="#000"/>
<circle cx="1767.9" cy="1655.4" r="7.4" fill="#000"/>
<circle cx="1384" cy="1771.3" r="7.4" fill="#000"/>
<circle cx="1746.1" cy="1694.1" r="7.4" fill="#000"/>
<circle cx="1319.2" cy="1771.3" r="7.4" fill="#000"/>
<circle cx="1746.1" cy="1732.8" r="7.4" fill="#000"/>
<circle cx="1340.8" cy="1771.3" r="7.4" fill="#000"/>
<circle cx="1767.9" cy="1732.8" r="7.4" fill="#000"/>
<line x1="1384" y1="1768.7" x2="1747.5" y2="1618.1" stroke="#000" stroke-width="3.7" stroke-linecap="round"/>
<line x1="1746.9" y1="1577.3" x2="1746.9" y2="1655" stroke="#000" stroke-width="3.3" stroke-linecap="butt"/>
<circle cx="1384" cy="1768.7" r="13.3" fill="#27fce6" stroke="#000" stroke-width="2.2"/>
<circle cx="1747.5" cy="1618.1" r="13.9" fill="#c500c5" stroke="#000" stroke-width="2.4"/>
<text x="1383.6" y="1663.7" text-anchor="middle">(9)</text>
<text x="1746.9" y="1340.6" text-anchor="middle">(9)</text>
<text x="1746.5" y="1326.3" text-anchor="middle" font-size="30">**</text>
<text x="1382.8" y="1818.6" text-anchor="middle">480</text>
<text x="1746.5" y="1819" text-anchor="middle">365</text>
<text x="1872" y="1829.6"><tspan class="ser" font-size="36">&#955;</tspan> (nm)</text>
</g>
</svg></body></html>
